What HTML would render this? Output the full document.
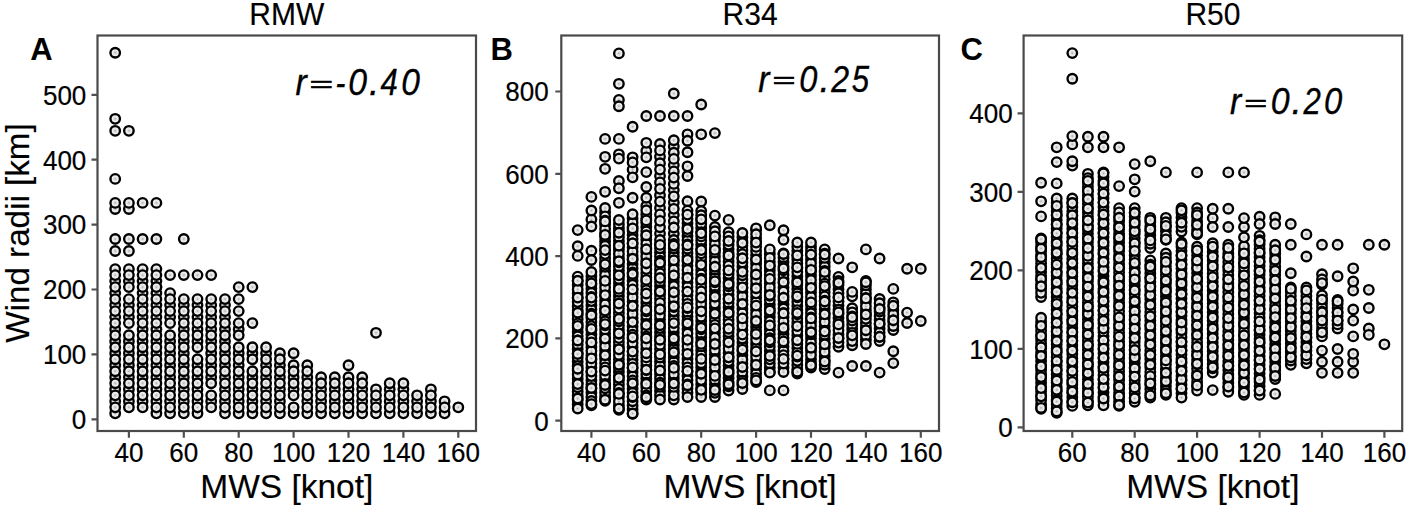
<!DOCTYPE html><html><head><meta charset="utf-8"><style>html,body{margin:0;padding:0;background:#fff;width:1410px;height:509px;overflow:hidden}svg{display:block}</style></head><body>
<svg width="1410" height="509" viewBox="0 0 1410 509" font-family='"Liberation Sans", sans-serif'>
<defs><radialGradient id="mf"><stop offset="0" stop-color="#a8a8a8"/><stop offset="0.25" stop-color="#d8d8d8"/><stop offset="0.55" stop-color="#eeeeee"/><stop offset="1" stop-color="#eeeeee"/></radialGradient></defs>
<rect width="1410" height="509" fill="#fff"/>
<g>
<g fill="url(#mf)" stroke="#000" stroke-width="2.35">
<circle cx="430.9" cy="401.3" r="4.75"/>
<circle cx="417.1" cy="401.3" r="4.75"/>
<circle cx="321.1" cy="389.3" r="4.75"/>
<circle cx="197.5" cy="341.2" r="4.75"/>
<circle cx="376.0" cy="401.3" r="4.75"/>
<circle cx="115.2" cy="239.0" r="4.75"/>
<circle cx="238.7" cy="377.2" r="4.75"/>
<circle cx="307.3" cy="389.3" r="4.75"/>
<circle cx="197.5" cy="275.1" r="4.75"/>
<circle cx="142.6" cy="202.9" r="4.75"/>
<circle cx="376.0" cy="389.3" r="4.75"/>
<circle cx="279.9" cy="401.3" r="4.75"/>
<circle cx="348.5" cy="389.3" r="4.75"/>
<circle cx="238.7" cy="299.1" r="4.75"/>
<circle cx="142.6" cy="401.3" r="4.75"/>
<circle cx="348.5" cy="413.3" r="4.75"/>
<circle cx="266.1" cy="389.3" r="4.75"/>
<circle cx="197.5" cy="329.2" r="4.75"/>
<circle cx="211.2" cy="377.2" r="4.75"/>
<circle cx="170.1" cy="317.1" r="4.75"/>
<circle cx="115.2" cy="389.3" r="4.75"/>
<circle cx="183.8" cy="317.1" r="4.75"/>
<circle cx="403.4" cy="413.3" r="4.75"/>
<circle cx="252.4" cy="401.3" r="4.75"/>
<circle cx="115.2" cy="305.1" r="4.75"/>
<circle cx="211.2" cy="365.2" r="4.75"/>
<circle cx="197.5" cy="413.3" r="4.75"/>
<circle cx="170.1" cy="413.3" r="4.75"/>
<circle cx="225.0" cy="341.2" r="4.75"/>
<circle cx="389.7" cy="389.3" r="4.75"/>
<circle cx="128.9" cy="269.1" r="4.75"/>
<circle cx="376.0" cy="413.3" r="4.75"/>
<circle cx="417.1" cy="413.3" r="4.75"/>
<circle cx="252.4" cy="287.1" r="4.75"/>
<circle cx="225.0" cy="389.3" r="4.75"/>
<circle cx="238.7" cy="329.2" r="4.75"/>
<circle cx="170.1" cy="275.1" r="4.75"/>
<circle cx="128.9" cy="341.2" r="4.75"/>
<circle cx="348.5" cy="365.2" r="4.75"/>
<circle cx="128.9" cy="317.1" r="4.75"/>
<circle cx="115.2" cy="118.8" r="4.75"/>
<circle cx="279.9" cy="377.2" r="4.75"/>
<circle cx="156.4" cy="269.1" r="4.75"/>
<circle cx="334.8" cy="389.3" r="4.75"/>
<circle cx="348.5" cy="401.3" r="4.75"/>
<circle cx="197.5" cy="377.2" r="4.75"/>
<circle cx="197.5" cy="389.3" r="4.75"/>
<circle cx="238.7" cy="311.1" r="4.75"/>
<circle cx="115.2" cy="281.1" r="4.75"/>
<circle cx="128.9" cy="130.8" r="4.75"/>
<circle cx="170.1" cy="401.3" r="4.75"/>
<circle cx="197.5" cy="365.2" r="4.75"/>
<circle cx="142.6" cy="341.2" r="4.75"/>
<circle cx="225.0" cy="305.1" r="4.75"/>
<circle cx="252.4" cy="389.3" r="4.75"/>
<circle cx="279.9" cy="413.3" r="4.75"/>
<circle cx="156.4" cy="329.2" r="4.75"/>
<circle cx="225.0" cy="365.2" r="4.75"/>
<circle cx="197.5" cy="305.1" r="4.75"/>
<circle cx="183.8" cy="239.0" r="4.75"/>
<circle cx="183.8" cy="389.3" r="4.75"/>
<circle cx="444.6" cy="401.3" r="4.75"/>
<circle cx="211.2" cy="401.3" r="4.75"/>
<circle cx="389.7" cy="413.3" r="4.75"/>
<circle cx="183.8" cy="329.2" r="4.75"/>
<circle cx="252.4" cy="323.1" r="4.75"/>
<circle cx="156.4" cy="202.9" r="4.75"/>
<circle cx="170.1" cy="305.1" r="4.75"/>
<circle cx="403.4" cy="389.3" r="4.75"/>
<circle cx="430.9" cy="413.3" r="4.75"/>
<circle cx="362.2" cy="389.3" r="4.75"/>
<circle cx="142.6" cy="353.2" r="4.75"/>
<circle cx="197.5" cy="401.3" r="4.75"/>
<circle cx="115.2" cy="293.1" r="4.75"/>
<circle cx="279.9" cy="365.2" r="4.75"/>
<circle cx="183.8" cy="365.2" r="4.75"/>
<circle cx="334.8" cy="413.3" r="4.75"/>
<circle cx="156.4" cy="305.1" r="4.75"/>
<circle cx="142.6" cy="293.1" r="4.75"/>
<circle cx="362.2" cy="413.3" r="4.75"/>
<circle cx="128.9" cy="305.1" r="4.75"/>
<circle cx="252.4" cy="353.2" r="4.75"/>
<circle cx="115.2" cy="401.3" r="4.75"/>
<circle cx="142.6" cy="377.2" r="4.75"/>
<circle cx="225.0" cy="353.2" r="4.75"/>
<circle cx="128.9" cy="353.2" r="4.75"/>
<circle cx="334.8" cy="401.3" r="4.75"/>
<circle cx="183.8" cy="401.3" r="4.75"/>
<circle cx="307.3" cy="413.3" r="4.75"/>
<circle cx="115.2" cy="52.7" r="4.75"/>
<circle cx="321.1" cy="413.3" r="4.75"/>
<circle cx="183.8" cy="341.2" r="4.75"/>
<circle cx="156.4" cy="239.0" r="4.75"/>
<circle cx="142.6" cy="305.1" r="4.75"/>
<circle cx="115.2" cy="377.2" r="4.75"/>
<circle cx="142.6" cy="239.0" r="4.75"/>
<circle cx="225.0" cy="413.3" r="4.75"/>
<circle cx="211.2" cy="353.2" r="4.75"/>
<circle cx="458.3" cy="407.3" r="4.75"/>
<circle cx="238.7" cy="401.3" r="4.75"/>
<circle cx="444.6" cy="413.3" r="4.75"/>
<circle cx="156.4" cy="341.2" r="4.75"/>
<circle cx="156.4" cy="377.2" r="4.75"/>
<circle cx="156.4" cy="317.1" r="4.75"/>
<circle cx="225.0" cy="329.2" r="4.75"/>
<circle cx="403.4" cy="401.3" r="4.75"/>
<circle cx="293.6" cy="377.2" r="4.75"/>
<circle cx="156.4" cy="401.3" r="4.75"/>
<circle cx="376.0" cy="332.8" r="4.75"/>
<circle cx="211.2" cy="329.2" r="4.75"/>
<circle cx="128.9" cy="209.0" r="4.75"/>
<circle cx="156.4" cy="389.3" r="4.75"/>
<circle cx="170.1" cy="389.3" r="4.75"/>
<circle cx="115.2" cy="269.1" r="4.75"/>
<circle cx="211.2" cy="341.2" r="4.75"/>
<circle cx="307.3" cy="365.2" r="4.75"/>
<circle cx="362.2" cy="401.3" r="4.75"/>
<circle cx="142.6" cy="365.2" r="4.75"/>
<circle cx="156.4" cy="413.3" r="4.75"/>
<circle cx="334.8" cy="377.2" r="4.75"/>
<circle cx="293.6" cy="365.2" r="4.75"/>
<circle cx="266.1" cy="413.3" r="4.75"/>
<circle cx="115.2" cy="130.8" r="4.75"/>
<circle cx="183.8" cy="353.2" r="4.75"/>
<circle cx="115.2" cy="365.2" r="4.75"/>
<circle cx="128.9" cy="251.0" r="4.75"/>
<circle cx="115.2" cy="353.2" r="4.75"/>
<circle cx="266.1" cy="401.3" r="4.75"/>
<circle cx="183.8" cy="305.1" r="4.75"/>
<circle cx="266.1" cy="377.2" r="4.75"/>
<circle cx="115.2" cy="329.2" r="4.75"/>
<circle cx="362.2" cy="377.2" r="4.75"/>
<circle cx="238.7" cy="389.3" r="4.75"/>
<circle cx="225.0" cy="401.3" r="4.75"/>
<circle cx="170.1" cy="353.2" r="4.75"/>
<circle cx="293.6" cy="413.3" r="4.75"/>
<circle cx="115.2" cy="209.0" r="4.75"/>
<circle cx="170.1" cy="341.2" r="4.75"/>
<circle cx="307.3" cy="377.2" r="4.75"/>
<circle cx="128.9" cy="401.3" r="4.75"/>
<circle cx="142.6" cy="389.3" r="4.75"/>
<circle cx="279.9" cy="389.3" r="4.75"/>
<circle cx="115.2" cy="178.9" r="4.75"/>
<circle cx="238.7" cy="413.3" r="4.75"/>
<circle cx="252.4" cy="413.3" r="4.75"/>
<circle cx="170.1" cy="293.1" r="4.75"/>
<circle cx="389.7" cy="401.3" r="4.75"/>
<circle cx="142.6" cy="281.1" r="4.75"/>
<circle cx="266.1" cy="353.2" r="4.75"/>
<circle cx="225.0" cy="317.1" r="4.75"/>
<circle cx="183.8" cy="275.1" r="4.75"/>
<circle cx="197.5" cy="317.1" r="4.75"/>
<circle cx="128.9" cy="202.9" r="4.75"/>
<circle cx="115.2" cy="413.3" r="4.75"/>
<circle cx="142.6" cy="329.2" r="4.75"/>
<circle cx="156.4" cy="281.1" r="4.75"/>
<circle cx="279.9" cy="353.2" r="4.75"/>
<circle cx="128.9" cy="239.0" r="4.75"/>
<circle cx="238.7" cy="365.2" r="4.75"/>
<circle cx="238.7" cy="353.2" r="4.75"/>
<circle cx="211.2" cy="317.1" r="4.75"/>
<circle cx="115.2" cy="317.1" r="4.75"/>
<circle cx="307.3" cy="401.3" r="4.75"/>
<circle cx="348.5" cy="377.2" r="4.75"/>
<circle cx="156.4" cy="287.1" r="4.75"/>
<circle cx="170.1" cy="365.2" r="4.75"/>
<circle cx="225.0" cy="377.2" r="4.75"/>
<circle cx="156.4" cy="293.1" r="4.75"/>
<circle cx="128.9" cy="281.1" r="4.75"/>
<circle cx="142.6" cy="317.1" r="4.75"/>
<circle cx="211.2" cy="305.1" r="4.75"/>
<circle cx="293.6" cy="389.3" r="4.75"/>
<circle cx="238.7" cy="335.2" r="4.75"/>
<circle cx="293.6" cy="353.2" r="4.75"/>
<circle cx="128.9" cy="365.2" r="4.75"/>
<circle cx="211.2" cy="275.1" r="4.75"/>
<circle cx="238.7" cy="287.1" r="4.75"/>
<circle cx="156.4" cy="365.2" r="4.75"/>
<circle cx="238.7" cy="323.1" r="4.75"/>
<circle cx="115.2" cy="341.2" r="4.75"/>
<circle cx="183.8" cy="413.3" r="4.75"/>
<circle cx="128.9" cy="389.3" r="4.75"/>
<circle cx="252.4" cy="377.2" r="4.75"/>
<circle cx="156.4" cy="353.2" r="4.75"/>
<circle cx="430.9" cy="389.3" r="4.75"/>
<circle cx="128.9" cy="377.2" r="4.75"/>
<circle cx="142.6" cy="269.1" r="4.75"/>
<circle cx="266.1" cy="365.2" r="4.75"/>
<circle cx="321.1" cy="401.3" r="4.75"/>
<circle cx="183.8" cy="377.2" r="4.75"/>
<circle cx="170.1" cy="377.2" r="4.75"/>
<circle cx="115.2" cy="251.0" r="4.75"/>
<circle cx="321.1" cy="377.2" r="4.75"/>
<circle cx="115.2" cy="202.9" r="4.75"/>
<circle cx="197.5" cy="383.2" r="4.75"/>
<circle cx="266.1" cy="347.2" r="4.75"/>
<circle cx="266.1" cy="407.3" r="4.75"/>
<circle cx="225.0" cy="335.2" r="4.75"/>
<circle cx="444.6" cy="407.3" r="4.75"/>
<circle cx="142.6" cy="359.2" r="4.75"/>
<circle cx="115.2" cy="323.1" r="4.75"/>
<circle cx="183.8" cy="407.3" r="4.75"/>
<circle cx="183.8" cy="371.2" r="4.75"/>
<circle cx="252.4" cy="371.2" r="4.75"/>
<circle cx="142.6" cy="323.1" r="4.75"/>
<circle cx="252.4" cy="359.2" r="4.75"/>
<circle cx="170.1" cy="335.2" r="4.75"/>
<circle cx="142.6" cy="371.2" r="4.75"/>
<circle cx="156.4" cy="335.2" r="4.75"/>
<circle cx="128.9" cy="275.1" r="4.75"/>
<circle cx="211.2" cy="371.2" r="4.75"/>
<circle cx="211.2" cy="383.2" r="4.75"/>
<circle cx="142.6" cy="335.2" r="4.75"/>
<circle cx="142.6" cy="287.1" r="4.75"/>
<circle cx="115.2" cy="359.2" r="4.75"/>
<circle cx="128.9" cy="359.2" r="4.75"/>
<circle cx="156.4" cy="347.2" r="4.75"/>
<circle cx="128.9" cy="311.1" r="4.75"/>
<circle cx="348.5" cy="395.3" r="4.75"/>
<circle cx="362.2" cy="383.2" r="4.75"/>
<circle cx="128.9" cy="347.2" r="4.75"/>
<circle cx="334.8" cy="395.3" r="4.75"/>
<circle cx="128.9" cy="371.2" r="4.75"/>
<circle cx="238.7" cy="347.2" r="4.75"/>
<circle cx="183.8" cy="383.2" r="4.75"/>
<circle cx="403.4" cy="383.2" r="4.75"/>
<circle cx="252.4" cy="407.3" r="4.75"/>
<circle cx="225.0" cy="371.2" r="4.75"/>
<circle cx="142.6" cy="395.3" r="4.75"/>
<circle cx="170.1" cy="407.3" r="4.75"/>
<circle cx="197.5" cy="395.3" r="4.75"/>
<circle cx="142.6" cy="275.1" r="4.75"/>
<circle cx="211.2" cy="323.1" r="4.75"/>
<circle cx="430.9" cy="395.3" r="4.75"/>
<circle cx="115.2" cy="407.3" r="4.75"/>
<circle cx="293.6" cy="407.3" r="4.75"/>
<circle cx="389.7" cy="383.2" r="4.75"/>
<circle cx="430.9" cy="407.3" r="4.75"/>
<circle cx="170.1" cy="383.2" r="4.75"/>
<circle cx="252.4" cy="383.2" r="4.75"/>
<circle cx="238.7" cy="359.2" r="4.75"/>
<circle cx="307.3" cy="407.3" r="4.75"/>
<circle cx="279.9" cy="359.2" r="4.75"/>
<circle cx="156.4" cy="407.3" r="4.75"/>
<circle cx="334.8" cy="407.3" r="4.75"/>
<circle cx="307.3" cy="395.3" r="4.75"/>
<circle cx="211.2" cy="407.3" r="4.75"/>
<circle cx="142.6" cy="383.2" r="4.75"/>
<circle cx="307.3" cy="371.2" r="4.75"/>
<circle cx="279.9" cy="371.2" r="4.75"/>
<circle cx="128.9" cy="395.3" r="4.75"/>
<circle cx="293.6" cy="371.2" r="4.75"/>
<circle cx="225.0" cy="359.2" r="4.75"/>
<circle cx="128.9" cy="335.2" r="4.75"/>
<circle cx="142.6" cy="299.1" r="4.75"/>
<circle cx="115.2" cy="287.1" r="4.75"/>
<circle cx="293.6" cy="383.2" r="4.75"/>
<circle cx="225.0" cy="407.3" r="4.75"/>
<circle cx="362.2" cy="395.3" r="4.75"/>
<circle cx="362.2" cy="407.3" r="4.75"/>
<circle cx="128.9" cy="383.2" r="4.75"/>
<circle cx="417.1" cy="395.3" r="4.75"/>
<circle cx="183.8" cy="323.1" r="4.75"/>
<circle cx="279.9" cy="407.3" r="4.75"/>
<circle cx="115.2" cy="299.1" r="4.75"/>
<circle cx="389.7" cy="395.3" r="4.75"/>
<circle cx="156.4" cy="359.2" r="4.75"/>
<circle cx="156.4" cy="287.1" r="4.75"/>
<circle cx="128.9" cy="299.1" r="4.75"/>
<circle cx="115.2" cy="275.1" r="4.75"/>
<circle cx="225.0" cy="323.1" r="4.75"/>
<circle cx="156.4" cy="323.1" r="4.75"/>
<circle cx="197.5" cy="323.1" r="4.75"/>
<circle cx="293.6" cy="395.3" r="4.75"/>
<circle cx="170.1" cy="311.1" r="4.75"/>
<circle cx="225.0" cy="395.3" r="4.75"/>
<circle cx="321.1" cy="383.2" r="4.75"/>
<circle cx="170.1" cy="347.2" r="4.75"/>
<circle cx="142.6" cy="407.3" r="4.75"/>
<circle cx="128.9" cy="323.1" r="4.75"/>
<circle cx="197.5" cy="347.2" r="4.75"/>
<circle cx="197.5" cy="371.2" r="4.75"/>
<circle cx="321.1" cy="395.3" r="4.75"/>
<circle cx="170.1" cy="371.2" r="4.75"/>
<circle cx="183.8" cy="335.2" r="4.75"/>
<circle cx="376.0" cy="407.3" r="4.75"/>
<circle cx="321.1" cy="407.3" r="4.75"/>
<circle cx="128.9" cy="407.3" r="4.75"/>
<circle cx="142.6" cy="347.2" r="4.75"/>
<circle cx="183.8" cy="299.1" r="4.75"/>
<circle cx="115.2" cy="311.1" r="4.75"/>
<circle cx="238.7" cy="371.2" r="4.75"/>
<circle cx="403.4" cy="407.3" r="4.75"/>
<circle cx="170.1" cy="299.1" r="4.75"/>
<circle cx="156.4" cy="311.1" r="4.75"/>
<circle cx="211.2" cy="311.1" r="4.75"/>
<circle cx="417.1" cy="407.3" r="4.75"/>
<circle cx="115.2" cy="347.2" r="4.75"/>
<circle cx="156.4" cy="299.1" r="4.75"/>
<circle cx="348.5" cy="407.3" r="4.75"/>
<circle cx="170.1" cy="395.3" r="4.75"/>
<circle cx="389.7" cy="407.3" r="4.75"/>
<circle cx="211.2" cy="299.1" r="4.75"/>
<circle cx="225.0" cy="347.2" r="4.75"/>
<circle cx="266.1" cy="383.2" r="4.75"/>
<circle cx="252.4" cy="395.3" r="4.75"/>
<circle cx="183.8" cy="311.1" r="4.75"/>
<circle cx="170.1" cy="323.1" r="4.75"/>
<circle cx="211.2" cy="395.3" r="4.75"/>
<circle cx="279.9" cy="383.2" r="4.75"/>
<circle cx="156.4" cy="371.2" r="4.75"/>
<circle cx="238.7" cy="395.3" r="4.75"/>
<circle cx="197.5" cy="407.3" r="4.75"/>
<circle cx="279.9" cy="395.3" r="4.75"/>
<circle cx="156.4" cy="383.2" r="4.75"/>
<circle cx="183.8" cy="347.2" r="4.75"/>
<circle cx="266.1" cy="359.2" r="4.75"/>
<circle cx="197.5" cy="359.2" r="4.75"/>
<circle cx="142.6" cy="311.1" r="4.75"/>
<circle cx="115.2" cy="335.2" r="4.75"/>
<circle cx="115.2" cy="371.2" r="4.75"/>
<circle cx="115.2" cy="383.2" r="4.75"/>
<circle cx="252.4" cy="347.2" r="4.75"/>
<circle cx="170.1" cy="359.2" r="4.75"/>
<circle cx="211.2" cy="347.2" r="4.75"/>
<circle cx="183.8" cy="359.2" r="4.75"/>
<circle cx="403.4" cy="395.3" r="4.75"/>
<circle cx="211.2" cy="335.2" r="4.75"/>
<circle cx="128.9" cy="287.1" r="4.75"/>
<circle cx="183.8" cy="395.3" r="4.75"/>
<circle cx="225.0" cy="311.1" r="4.75"/>
<circle cx="266.1" cy="395.3" r="4.75"/>
<circle cx="156.4" cy="395.3" r="4.75"/>
<circle cx="197.5" cy="299.1" r="4.75"/>
<circle cx="348.5" cy="383.2" r="4.75"/>
<circle cx="156.4" cy="275.1" r="4.75"/>
<circle cx="197.5" cy="311.1" r="4.75"/>
<circle cx="266.1" cy="371.2" r="4.75"/>
<circle cx="225.0" cy="299.1" r="4.75"/>
<circle cx="307.3" cy="383.2" r="4.75"/>
<circle cx="115.2" cy="395.3" r="4.75"/>
<circle cx="211.2" cy="359.2" r="4.75"/>
<circle cx="238.7" cy="407.3" r="4.75"/>
<circle cx="376.0" cy="395.3" r="4.75"/>
<circle cx="334.8" cy="383.2" r="4.75"/>
<circle cx="238.7" cy="383.2" r="4.75"/>
<circle cx="225.0" cy="383.2" r="4.75"/>
<circle cx="197.5" cy="335.2" r="4.75"/>
</g>
<rect x="97.5" y="35.5" width="378.5" height="395.5" fill="none" stroke="#4a4a4a" stroke-width="2.2"/>
<path d="M128.9 431.0V437.8M183.8 431.0V437.8M238.7 431.0V437.8M293.6 431.0V437.8M348.5 431.0V437.8M403.4 431.0V437.8M458.3 431.0V437.8M97.5 419.3H91.5M97.5 354.4H91.5M97.5 289.5H91.5M97.5 224.6H91.5M97.5 159.7H91.5M97.5 94.8H91.5" stroke="#505050" stroke-width="2.2" fill="none"/>
<g font-size="26" fill="#000" stroke="#000" stroke-width="0.2">
<text transform="translate(128.9,461.8) scale(1,1.06)" text-anchor="middle">40</text>
<text transform="translate(183.8,461.8) scale(1,1.06)" text-anchor="middle">60</text>
<text transform="translate(238.7,461.8) scale(1,1.06)" text-anchor="middle">80</text>
<text transform="translate(293.6,461.8) scale(1,1.06)" text-anchor="middle">100</text>
<text transform="translate(348.5,461.8) scale(1,1.06)" text-anchor="middle">120</text>
<text transform="translate(403.4,461.8) scale(1,1.06)" text-anchor="middle">140</text>
<text transform="translate(458.3,461.8) scale(1,1.06)" text-anchor="middle">160</text>
<text transform="translate(86.3,429.1) scale(1,1.06)" text-anchor="end">0</text>
<text transform="translate(86.3,364.2) scale(1,1.06)" text-anchor="end">100</text>
<text transform="translate(86.3,299.3) scale(1,1.06)" text-anchor="end">200</text>
<text transform="translate(86.3,234.4) scale(1,1.06)" text-anchor="end">300</text>
<text transform="translate(86.3,169.5) scale(1,1.06)" text-anchor="end">400</text>
<text transform="translate(86.3,104.6) scale(1,1.06)" text-anchor="end">500</text>
</g>
<text transform="translate(286.8,25.3) scale(1,1.06)" font-size="30" stroke="#000" stroke-width="0.15" text-anchor="middle">RMW</text>
<text x="286.8" y="498" font-size="33.5" stroke="#000" stroke-width="0.15" text-anchor="middle">MWS [knot]</text>
<text x="30.3" y="60.4" font-size="31" font-weight="bold">A</text>
<text transform="translate(295.60,95) scale(0.910,1)" font-size="37" font-style="italic" stroke="#000" stroke-width="0.35">r</text>
<text transform="translate(309.07,91.88) scale(1.086,0.62)" font-size="37" font-style="italic" stroke="#000" stroke-width="1.0">=</text>
<text transform="translate(335.56,95) scale(0.798,1)" font-size="37" font-style="italic" stroke="#000" stroke-width="0.35">-</text>
<text transform="translate(348.16,95) scale(0.912,1)" font-size="37" font-style="italic" stroke="#000" stroke-width="0.35">0</text>
<text transform="translate(369.05,95) scale(1.000,1)" font-size="37" font-style="italic" stroke="#000" stroke-width="0.35">.</text>
<text transform="translate(380.50,95) scale(0.840,1)" font-size="37" font-style="italic" stroke="#000" stroke-width="0.35">4</text>
<text transform="translate(401.27,95) scale(0.906,1)" font-size="37" font-style="italic" stroke="#000" stroke-width="0.35">0</text>
<g fill="url(#mf)" stroke="#000" stroke-width="2.35">
<circle cx="824.7" cy="262.2" r="4.75"/>
<circle cx="797.3" cy="369.3" r="4.75"/>
<circle cx="838.5" cy="372.6" r="4.75"/>
<circle cx="701.2" cy="266.0" r="4.75"/>
<circle cx="756.1" cy="272.2" r="4.75"/>
<circle cx="783.5" cy="317.0" r="4.75"/>
<circle cx="673.8" cy="146.4" r="4.75"/>
<circle cx="577.7" cy="361.7" r="4.75"/>
<circle cx="797.3" cy="267.9" r="4.75"/>
<circle cx="646.3" cy="206.0" r="4.75"/>
<circle cx="838.5" cy="334.4" r="4.75"/>
<circle cx="673.8" cy="391.1" r="4.75"/>
<circle cx="701.2" cy="227.9" r="4.75"/>
<circle cx="701.2" cy="261.7" r="4.75"/>
<circle cx="577.7" cy="404.2" r="4.75"/>
<circle cx="618.9" cy="228.4" r="4.75"/>
<circle cx="714.9" cy="273.8" r="4.75"/>
<circle cx="646.3" cy="378.5" r="4.75"/>
<circle cx="618.9" cy="270.6" r="4.75"/>
<circle cx="632.6" cy="413.7" r="4.75"/>
<circle cx="646.3" cy="260.7" r="4.75"/>
<circle cx="797.3" cy="289.0" r="4.75"/>
<circle cx="618.9" cy="350.8" r="4.75"/>
<circle cx="660.0" cy="340.7" r="4.75"/>
<circle cx="811.0" cy="309.2" r="4.75"/>
<circle cx="824.7" cy="266.5" r="4.75"/>
<circle cx="605.1" cy="262.5" r="4.75"/>
<circle cx="728.6" cy="298.9" r="4.75"/>
<circle cx="811.0" cy="346.7" r="4.75"/>
<circle cx="756.1" cy="297.6" r="4.75"/>
<circle cx="742.4" cy="334.2" r="4.75"/>
<circle cx="769.8" cy="317.0" r="4.75"/>
<circle cx="660.0" cy="116.0" r="4.75"/>
<circle cx="783.5" cy="346.6" r="4.75"/>
<circle cx="618.9" cy="295.9" r="4.75"/>
<circle cx="852.2" cy="345.2" r="4.75"/>
<circle cx="879.6" cy="307.4" r="4.75"/>
<circle cx="605.1" cy="379.8" r="4.75"/>
<circle cx="673.8" cy="165.1" r="4.75"/>
<circle cx="605.1" cy="241.5" r="4.75"/>
<circle cx="660.0" cy="286.0" r="4.75"/>
<circle cx="783.5" cy="295.8" r="4.75"/>
<circle cx="879.6" cy="328.4" r="4.75"/>
<circle cx="701.2" cy="337.8" r="4.75"/>
<circle cx="605.1" cy="224.8" r="4.75"/>
<circle cx="797.3" cy="335.5" r="4.75"/>
<circle cx="673.8" cy="290.2" r="4.75"/>
<circle cx="865.9" cy="339.8" r="4.75"/>
<circle cx="879.6" cy="372.6" r="4.75"/>
<circle cx="756.1" cy="289.1" r="4.75"/>
<circle cx="769.8" cy="253.6" r="4.75"/>
<circle cx="618.9" cy="224.2" r="4.75"/>
<circle cx="742.4" cy="330.0" r="4.75"/>
<circle cx="797.3" cy="339.7" r="4.75"/>
<circle cx="824.7" cy="339.1" r="4.75"/>
<circle cx="769.8" cy="304.4" r="4.75"/>
<circle cx="797.3" cy="322.8" r="4.75"/>
<circle cx="769.8" cy="312.8" r="4.75"/>
<circle cx="618.9" cy="283.3" r="4.75"/>
<circle cx="714.9" cy="375.8" r="4.75"/>
<circle cx="646.3" cy="151.0" r="4.75"/>
<circle cx="618.9" cy="405.6" r="4.75"/>
<circle cx="673.8" cy="332.3" r="4.75"/>
<circle cx="756.1" cy="301.8" r="4.75"/>
<circle cx="811.0" cy="288.3" r="4.75"/>
<circle cx="824.7" cy="343.4" r="4.75"/>
<circle cx="577.7" cy="230.1" r="4.75"/>
<circle cx="660.0" cy="361.7" r="4.75"/>
<circle cx="742.4" cy="342.6" r="4.75"/>
<circle cx="660.0" cy="374.3" r="4.75"/>
<circle cx="714.9" cy="346.0" r="4.75"/>
<circle cx="756.1" cy="318.7" r="4.75"/>
<circle cx="701.2" cy="350.5" r="4.75"/>
<circle cx="742.4" cy="376.4" r="4.75"/>
<circle cx="865.9" cy="314.6" r="4.75"/>
<circle cx="687.5" cy="116.0" r="4.75"/>
<circle cx="824.7" cy="369.0" r="4.75"/>
<circle cx="728.6" cy="219.9" r="4.75"/>
<circle cx="714.9" cy="384.2" r="4.75"/>
<circle cx="646.3" cy="340.6" r="4.75"/>
<circle cx="701.2" cy="201.5" r="4.75"/>
<circle cx="646.3" cy="264.9" r="4.75"/>
<circle cx="605.1" cy="333.7" r="4.75"/>
<circle cx="591.4" cy="284.5" r="4.75"/>
<circle cx="728.6" cy="240.5" r="4.75"/>
<circle cx="591.4" cy="392.7" r="4.75"/>
<circle cx="824.7" cy="334.8" r="4.75"/>
<circle cx="838.5" cy="346.7" r="4.75"/>
<circle cx="687.5" cy="375.8" r="4.75"/>
<circle cx="632.6" cy="157.3" r="4.75"/>
<circle cx="824.7" cy="275.0" r="4.75"/>
<circle cx="756.1" cy="360.9" r="4.75"/>
<circle cx="687.5" cy="236.0" r="4.75"/>
<circle cx="701.2" cy="244.8" r="4.75"/>
<circle cx="577.7" cy="400.0" r="4.75"/>
<circle cx="824.7" cy="317.7" r="4.75"/>
<circle cx="618.9" cy="232.7" r="4.75"/>
<circle cx="701.2" cy="219.5" r="4.75"/>
<circle cx="701.2" cy="295.5" r="4.75"/>
<circle cx="618.9" cy="346.5" r="4.75"/>
<circle cx="618.9" cy="342.3" r="4.75"/>
<circle cx="783.5" cy="262.0" r="4.75"/>
<circle cx="728.6" cy="278.0" r="4.75"/>
<circle cx="797.3" cy="373.5" r="4.75"/>
<circle cx="605.1" cy="358.9" r="4.75"/>
<circle cx="742.4" cy="245.6" r="4.75"/>
<circle cx="783.5" cy="283.1" r="4.75"/>
<circle cx="605.1" cy="291.8" r="4.75"/>
<circle cx="742.4" cy="292.0" r="4.75"/>
<circle cx="879.6" cy="341.0" r="4.75"/>
<circle cx="714.9" cy="278.0" r="4.75"/>
<circle cx="577.7" cy="395.7" r="4.75"/>
<circle cx="865.9" cy="331.4" r="4.75"/>
<circle cx="646.3" cy="386.9" r="4.75"/>
<circle cx="714.9" cy="227.0" r="4.75"/>
<circle cx="591.4" cy="388.5" r="4.75"/>
<circle cx="618.9" cy="154.3" r="4.75"/>
<circle cx="824.7" cy="287.8" r="4.75"/>
<circle cx="838.5" cy="305.6" r="4.75"/>
<circle cx="646.3" cy="294.3" r="4.75"/>
<circle cx="646.3" cy="365.8" r="4.75"/>
<circle cx="632.6" cy="280.7" r="4.75"/>
<circle cx="646.3" cy="319.6" r="4.75"/>
<circle cx="701.2" cy="320.9" r="4.75"/>
<circle cx="646.3" cy="157.3" r="4.75"/>
<circle cx="660.0" cy="319.6" r="4.75"/>
<circle cx="742.4" cy="258.3" r="4.75"/>
<circle cx="742.4" cy="346.8" r="4.75"/>
<circle cx="920.8" cy="321.0" r="4.75"/>
<circle cx="660.0" cy="391.1" r="4.75"/>
<circle cx="687.5" cy="152.2" r="4.75"/>
<circle cx="811.0" cy="305.0" r="4.75"/>
<circle cx="756.1" cy="382.0" r="4.75"/>
<circle cx="687.5" cy="388.5" r="4.75"/>
<circle cx="605.1" cy="312.8" r="4.75"/>
<circle cx="660.0" cy="395.3" r="4.75"/>
<circle cx="632.6" cy="368.0" r="4.75"/>
<circle cx="577.7" cy="357.4" r="4.75"/>
<circle cx="687.5" cy="316.5" r="4.75"/>
<circle cx="673.8" cy="399.5" r="4.75"/>
<circle cx="632.6" cy="359.7" r="4.75"/>
<circle cx="605.1" cy="342.1" r="4.75"/>
<circle cx="701.2" cy="270.2" r="4.75"/>
<circle cx="646.3" cy="235.4" r="4.75"/>
<circle cx="728.6" cy="390.5" r="4.75"/>
<circle cx="879.6" cy="336.8" r="4.75"/>
<circle cx="783.5" cy="257.7" r="4.75"/>
<circle cx="879.6" cy="299.0" r="4.75"/>
<circle cx="811.0" cy="338.3" r="4.75"/>
<circle cx="591.4" cy="334.4" r="4.75"/>
<circle cx="756.1" cy="352.4" r="4.75"/>
<circle cx="756.1" cy="276.4" r="4.75"/>
<circle cx="673.8" cy="152.7" r="4.75"/>
<circle cx="660.0" cy="386.9" r="4.75"/>
<circle cx="673.8" cy="273.4" r="4.75"/>
<circle cx="673.8" cy="294.4" r="4.75"/>
<circle cx="577.7" cy="293.6" r="4.75"/>
<circle cx="618.9" cy="83.8" r="4.75"/>
<circle cx="660.0" cy="294.4" r="4.75"/>
<circle cx="742.4" cy="367.9" r="4.75"/>
<circle cx="618.9" cy="329.7" r="4.75"/>
<circle cx="632.6" cy="326.4" r="4.75"/>
<circle cx="673.8" cy="323.9" r="4.75"/>
<circle cx="660.0" cy="195.2" r="4.75"/>
<circle cx="605.1" cy="308.6" r="4.75"/>
<circle cx="632.6" cy="309.8" r="4.75"/>
<circle cx="687.5" cy="312.3" r="4.75"/>
<circle cx="742.4" cy="338.4" r="4.75"/>
<circle cx="756.1" cy="284.9" r="4.75"/>
<circle cx="797.3" cy="318.6" r="4.75"/>
<circle cx="824.7" cy="257.9" r="4.75"/>
<circle cx="577.7" cy="314.9" r="4.75"/>
<circle cx="811.0" cy="342.5" r="4.75"/>
<circle cx="618.9" cy="274.8" r="4.75"/>
<circle cx="646.3" cy="374.3" r="4.75"/>
<circle cx="673.8" cy="315.4" r="4.75"/>
<circle cx="769.8" cy="225.2" r="4.75"/>
<circle cx="646.3" cy="227.0" r="4.75"/>
<circle cx="756.1" cy="255.3" r="4.75"/>
<circle cx="742.4" cy="300.5" r="4.75"/>
<circle cx="714.9" cy="371.5" r="4.75"/>
<circle cx="701.2" cy="211.0" r="4.75"/>
<circle cx="618.9" cy="202.8" r="4.75"/>
<circle cx="632.6" cy="218.4" r="4.75"/>
<circle cx="824.7" cy="270.8" r="4.75"/>
<circle cx="714.9" cy="235.5" r="4.75"/>
<circle cx="618.9" cy="266.4" r="4.75"/>
<circle cx="756.1" cy="327.1" r="4.75"/>
<circle cx="660.0" cy="307.0" r="4.75"/>
<circle cx="591.4" cy="305.3" r="4.75"/>
<circle cx="701.2" cy="367.4" r="4.75"/>
<circle cx="632.6" cy="355.5" r="4.75"/>
<circle cx="714.9" cy="248.2" r="4.75"/>
<circle cx="797.3" cy="348.1" r="4.75"/>
<circle cx="646.3" cy="281.7" r="4.75"/>
<circle cx="646.3" cy="248.1" r="4.75"/>
<circle cx="742.4" cy="283.6" r="4.75"/>
<circle cx="756.1" cy="230.0" r="4.75"/>
<circle cx="824.7" cy="292.1" r="4.75"/>
<circle cx="605.1" cy="212.2" r="4.75"/>
<circle cx="605.1" cy="270.9" r="4.75"/>
<circle cx="701.2" cy="104.5" r="4.75"/>
<circle cx="865.9" cy="335.6" r="4.75"/>
<circle cx="577.7" cy="408.5" r="4.75"/>
<circle cx="646.3" cy="218.6" r="4.75"/>
<circle cx="673.8" cy="357.5" r="4.75"/>
<circle cx="632.6" cy="276.5" r="4.75"/>
<circle cx="646.3" cy="239.7" r="4.75"/>
<circle cx="811.0" cy="350.8" r="4.75"/>
<circle cx="769.8" cy="266.3" r="4.75"/>
<circle cx="687.5" cy="240.3" r="4.75"/>
<circle cx="673.8" cy="116.0" r="4.75"/>
<circle cx="783.5" cy="287.4" r="4.75"/>
<circle cx="632.6" cy="322.3" r="4.75"/>
<circle cx="632.6" cy="264.1" r="4.75"/>
<circle cx="591.4" cy="380.2" r="4.75"/>
<circle cx="811.0" cy="334.2" r="4.75"/>
<circle cx="783.5" cy="304.3" r="4.75"/>
<circle cx="660.0" cy="332.3" r="4.75"/>
<circle cx="632.6" cy="351.4" r="4.75"/>
<circle cx="714.9" cy="307.8" r="4.75"/>
<circle cx="618.9" cy="363.4" r="4.75"/>
<circle cx="591.4" cy="219.4" r="4.75"/>
<circle cx="673.8" cy="361.7" r="4.75"/>
<circle cx="646.3" cy="353.2" r="4.75"/>
<circle cx="591.4" cy="396.9" r="4.75"/>
<circle cx="646.3" cy="116.0" r="4.75"/>
<circle cx="756.1" cy="356.7" r="4.75"/>
<circle cx="673.8" cy="328.1" r="4.75"/>
<circle cx="756.1" cy="369.3" r="4.75"/>
<circle cx="605.1" cy="168.8" r="4.75"/>
<circle cx="728.6" cy="365.5" r="4.75"/>
<circle cx="591.4" cy="288.6" r="4.75"/>
<circle cx="577.7" cy="297.9" r="4.75"/>
<circle cx="646.3" cy="370.1" r="4.75"/>
<circle cx="797.3" cy="305.9" r="4.75"/>
<circle cx="632.6" cy="226.7" r="4.75"/>
<circle cx="618.9" cy="287.5" r="4.75"/>
<circle cx="687.5" cy="341.9" r="4.75"/>
<circle cx="673.8" cy="281.8" r="4.75"/>
<circle cx="714.9" cy="363.0" r="4.75"/>
<circle cx="811.0" cy="321.7" r="4.75"/>
<circle cx="646.3" cy="252.3" r="4.75"/>
<circle cx="797.3" cy="365.0" r="4.75"/>
<circle cx="701.2" cy="392.8" r="4.75"/>
<circle cx="577.7" cy="310.6" r="4.75"/>
<circle cx="660.0" cy="311.2" r="4.75"/>
<circle cx="605.1" cy="350.5" r="4.75"/>
<circle cx="893.3" cy="351.2" r="4.75"/>
<circle cx="660.0" cy="208.0" r="4.75"/>
<circle cx="605.1" cy="233.1" r="4.75"/>
<circle cx="742.4" cy="304.7" r="4.75"/>
<circle cx="646.3" cy="315.4" r="4.75"/>
<circle cx="783.5" cy="266.2" r="4.75"/>
<circle cx="673.8" cy="319.6" r="4.75"/>
<circle cx="673.8" cy="277.6" r="4.75"/>
<circle cx="618.9" cy="338.1" r="4.75"/>
<circle cx="714.9" cy="133.1" r="4.75"/>
<circle cx="865.9" cy="289.4" r="4.75"/>
<circle cx="660.0" cy="277.6" r="4.75"/>
<circle cx="605.1" cy="249.9" r="4.75"/>
<circle cx="605.1" cy="258.3" r="4.75"/>
<circle cx="714.9" cy="397.0" r="4.75"/>
<circle cx="605.1" cy="354.7" r="4.75"/>
<circle cx="852.2" cy="267.3" r="4.75"/>
<circle cx="728.6" cy="248.9" r="4.75"/>
<circle cx="865.9" cy="293.6" r="4.75"/>
<circle cx="618.9" cy="304.4" r="4.75"/>
<circle cx="605.1" cy="337.9" r="4.75"/>
<circle cx="742.4" cy="384.8" r="4.75"/>
<circle cx="714.9" cy="329.0" r="4.75"/>
<circle cx="742.4" cy="317.3" r="4.75"/>
<circle cx="756.1" cy="331.3" r="4.75"/>
<circle cx="865.9" cy="281.0" r="4.75"/>
<circle cx="660.0" cy="353.3" r="4.75"/>
<circle cx="687.5" cy="371.6" r="4.75"/>
<circle cx="591.4" cy="210.5" r="4.75"/>
<circle cx="838.5" cy="297.4" r="4.75"/>
<circle cx="618.9" cy="397.1" r="4.75"/>
<circle cx="728.6" cy="253.0" r="4.75"/>
<circle cx="714.9" cy="392.8" r="4.75"/>
<circle cx="742.4" cy="308.9" r="4.75"/>
<circle cx="618.9" cy="258.0" r="4.75"/>
<circle cx="646.3" cy="328.0" r="4.75"/>
<circle cx="728.6" cy="294.7" r="4.75"/>
<circle cx="660.0" cy="370.1" r="4.75"/>
<circle cx="673.8" cy="252.4" r="4.75"/>
<circle cx="742.4" cy="389.0" r="4.75"/>
<circle cx="646.3" cy="277.5" r="4.75"/>
<circle cx="728.6" cy="307.2" r="4.75"/>
<circle cx="714.9" cy="341.8" r="4.75"/>
<circle cx="769.8" cy="367.8" r="4.75"/>
<circle cx="728.6" cy="244.7" r="4.75"/>
<circle cx="646.3" cy="302.8" r="4.75"/>
<circle cx="632.6" cy="169.6" r="4.75"/>
<circle cx="783.5" cy="300.1" r="4.75"/>
<circle cx="893.3" cy="322.1" r="4.75"/>
<circle cx="673.8" cy="311.2" r="4.75"/>
<circle cx="687.5" cy="350.4" r="4.75"/>
<circle cx="660.0" cy="252.4" r="4.75"/>
<circle cx="618.9" cy="158.6" r="4.75"/>
<circle cx="769.8" cy="249.4" r="4.75"/>
<circle cx="701.2" cy="371.6" r="4.75"/>
<circle cx="714.9" cy="333.2" r="4.75"/>
<circle cx="673.8" cy="344.9" r="4.75"/>
<circle cx="660.0" cy="156.8" r="4.75"/>
<circle cx="660.0" cy="281.8" r="4.75"/>
<circle cx="646.3" cy="256.5" r="4.75"/>
<circle cx="838.5" cy="318.0" r="4.75"/>
<circle cx="618.9" cy="401.4" r="4.75"/>
<circle cx="879.6" cy="320.0" r="4.75"/>
<circle cx="742.4" cy="270.9" r="4.75"/>
<circle cx="742.4" cy="249.9" r="4.75"/>
<circle cx="852.2" cy="328.8" r="4.75"/>
<circle cx="687.5" cy="337.7" r="4.75"/>
<circle cx="838.5" cy="313.9" r="4.75"/>
<circle cx="632.6" cy="409.5" r="4.75"/>
<circle cx="673.8" cy="302.8" r="4.75"/>
<circle cx="852.2" cy="366.0" r="4.75"/>
<circle cx="714.9" cy="299.2" r="4.75"/>
<circle cx="591.4" cy="359.4" r="4.75"/>
<circle cx="660.0" cy="315.4" r="4.75"/>
<circle cx="769.8" cy="262.1" r="4.75"/>
<circle cx="824.7" cy="364.7" r="4.75"/>
<circle cx="591.4" cy="371.9" r="4.75"/>
<circle cx="783.5" cy="390.4" r="4.75"/>
<circle cx="811.0" cy="313.3" r="4.75"/>
<circle cx="618.9" cy="245.3" r="4.75"/>
<circle cx="797.3" cy="360.8" r="4.75"/>
<circle cx="879.6" cy="315.8" r="4.75"/>
<circle cx="728.6" cy="282.2" r="4.75"/>
<circle cx="660.0" cy="349.1" r="4.75"/>
<circle cx="687.5" cy="274.1" r="4.75"/>
<circle cx="660.0" cy="201.6" r="4.75"/>
<circle cx="646.3" cy="187.0" r="4.75"/>
<circle cx="756.1" cy="373.6" r="4.75"/>
<circle cx="646.3" cy="399.5" r="4.75"/>
<circle cx="605.1" cy="329.5" r="4.75"/>
<circle cx="591.4" cy="226.5" r="4.75"/>
<circle cx="756.1" cy="310.2" r="4.75"/>
<circle cx="646.3" cy="391.1" r="4.75"/>
<circle cx="728.6" cy="378.0" r="4.75"/>
<circle cx="756.1" cy="280.7" r="4.75"/>
<circle cx="577.7" cy="391.5" r="4.75"/>
<circle cx="673.8" cy="349.1" r="4.75"/>
<circle cx="714.9" cy="316.2" r="4.75"/>
<circle cx="660.0" cy="233.6" r="4.75"/>
<circle cx="769.8" cy="300.1" r="4.75"/>
<circle cx="673.8" cy="395.3" r="4.75"/>
<circle cx="714.9" cy="265.2" r="4.75"/>
<circle cx="907.1" cy="268.7" r="4.75"/>
<circle cx="811.0" cy="330.0" r="4.75"/>
<circle cx="852.2" cy="337.0" r="4.75"/>
<circle cx="605.1" cy="396.6" r="4.75"/>
<circle cx="701.2" cy="333.6" r="4.75"/>
<circle cx="660.0" cy="265.0" r="4.75"/>
<circle cx="838.5" cy="258.5" r="4.75"/>
<circle cx="728.6" cy="290.5" r="4.75"/>
<circle cx="632.6" cy="293.2" r="4.75"/>
<circle cx="687.5" cy="346.2" r="4.75"/>
<circle cx="660.0" cy="214.4" r="4.75"/>
<circle cx="811.0" cy="284.2" r="4.75"/>
<circle cx="701.2" cy="359.0" r="4.75"/>
<circle cx="646.3" cy="222.8" r="4.75"/>
<circle cx="893.3" cy="306.3" r="4.75"/>
<circle cx="728.6" cy="369.7" r="4.75"/>
<circle cx="687.5" cy="320.7" r="4.75"/>
<circle cx="742.4" cy="266.7" r="4.75"/>
<circle cx="660.0" cy="163.2" r="4.75"/>
<circle cx="756.1" cy="238.4" r="4.75"/>
<circle cx="852.2" cy="324.6" r="4.75"/>
<circle cx="632.6" cy="338.9" r="4.75"/>
<circle cx="687.5" cy="223.3" r="4.75"/>
<circle cx="577.7" cy="378.7" r="4.75"/>
<circle cx="687.5" cy="201.2" r="4.75"/>
<circle cx="797.3" cy="352.4" r="4.75"/>
<circle cx="797.3" cy="276.3" r="4.75"/>
<circle cx="577.7" cy="319.1" r="4.75"/>
<circle cx="714.9" cy="337.5" r="4.75"/>
<circle cx="646.3" cy="243.9" r="4.75"/>
<circle cx="769.8" cy="350.9" r="4.75"/>
<circle cx="742.4" cy="262.5" r="4.75"/>
<circle cx="618.9" cy="380.3" r="4.75"/>
<circle cx="756.1" cy="228.3" r="4.75"/>
<circle cx="673.8" cy="265.0" r="4.75"/>
<circle cx="591.4" cy="346.9" r="4.75"/>
<circle cx="783.5" cy="350.8" r="4.75"/>
<circle cx="907.1" cy="323.0" r="4.75"/>
<circle cx="646.3" cy="361.6" r="4.75"/>
<circle cx="769.8" cy="390.4" r="4.75"/>
<circle cx="687.5" cy="329.2" r="4.75"/>
<circle cx="673.8" cy="233.8" r="4.75"/>
<circle cx="728.6" cy="344.7" r="4.75"/>
<circle cx="838.5" cy="301.5" r="4.75"/>
<circle cx="591.4" cy="196.9" r="4.75"/>
<circle cx="811.0" cy="246.7" r="4.75"/>
<circle cx="838.5" cy="276.9" r="4.75"/>
<circle cx="577.7" cy="348.9" r="4.75"/>
<circle cx="783.5" cy="367.8" r="4.75"/>
<circle cx="605.1" cy="371.5" r="4.75"/>
<circle cx="605.1" cy="375.7" r="4.75"/>
<circle cx="824.7" cy="279.3" r="4.75"/>
<circle cx="701.2" cy="308.2" r="4.75"/>
<circle cx="632.6" cy="372.1" r="4.75"/>
<circle cx="824.7" cy="356.2" r="4.75"/>
<circle cx="811.0" cy="300.8" r="4.75"/>
<circle cx="852.2" cy="332.9" r="4.75"/>
<circle cx="852.2" cy="296.3" r="4.75"/>
<circle cx="660.0" cy="256.6" r="4.75"/>
<circle cx="605.1" cy="363.1" r="4.75"/>
<circle cx="783.5" cy="253.5" r="4.75"/>
<circle cx="687.5" cy="325.0" r="4.75"/>
<circle cx="660.0" cy="378.5" r="4.75"/>
<circle cx="591.4" cy="276.2" r="4.75"/>
<circle cx="811.0" cy="275.8" r="4.75"/>
<circle cx="769.8" cy="279.0" r="4.75"/>
<circle cx="756.1" cy="344.0" r="4.75"/>
<circle cx="852.2" cy="308.2" r="4.75"/>
<circle cx="742.4" cy="237.2" r="4.75"/>
<circle cx="673.8" cy="240.0" r="4.75"/>
<circle cx="673.8" cy="260.8" r="4.75"/>
<circle cx="714.9" cy="256.8" r="4.75"/>
<circle cx="605.1" cy="229.0" r="4.75"/>
<circle cx="577.7" cy="366.0" r="4.75"/>
<circle cx="865.9" cy="310.4" r="4.75"/>
<circle cx="742.4" cy="372.1" r="4.75"/>
<circle cx="742.4" cy="321.5" r="4.75"/>
<circle cx="605.1" cy="237.3" r="4.75"/>
<circle cx="632.6" cy="289.0" r="4.75"/>
<circle cx="783.5" cy="278.9" r="4.75"/>
<circle cx="797.3" cy="343.9" r="4.75"/>
<circle cx="838.5" cy="289.2" r="4.75"/>
<circle cx="742.4" cy="325.8" r="4.75"/>
<circle cx="701.2" cy="384.3" r="4.75"/>
<circle cx="577.7" cy="344.7" r="4.75"/>
<circle cx="605.1" cy="245.7" r="4.75"/>
<circle cx="605.1" cy="300.2" r="4.75"/>
<circle cx="660.0" cy="323.9" r="4.75"/>
<circle cx="728.6" cy="303.0" r="4.75"/>
<circle cx="660.0" cy="365.9" r="4.75"/>
<circle cx="673.8" cy="202.6" r="4.75"/>
<circle cx="824.7" cy="326.3" r="4.75"/>
<circle cx="756.1" cy="263.8" r="4.75"/>
<circle cx="618.9" cy="99.9" r="4.75"/>
<circle cx="618.9" cy="409.8" r="4.75"/>
<circle cx="660.0" cy="336.5" r="4.75"/>
<circle cx="618.9" cy="249.5" r="4.75"/>
<circle cx="687.5" cy="244.5" r="4.75"/>
<circle cx="618.9" cy="181.0" r="4.75"/>
<circle cx="577.7" cy="331.9" r="4.75"/>
<circle cx="701.2" cy="342.0" r="4.75"/>
<circle cx="811.0" cy="271.7" r="4.75"/>
<circle cx="673.8" cy="378.5" r="4.75"/>
<circle cx="852.2" cy="291.9" r="4.75"/>
<circle cx="701.2" cy="299.8" r="4.75"/>
<circle cx="646.3" cy="349.0" r="4.75"/>
<circle cx="811.0" cy="255.0" r="4.75"/>
<circle cx="660.0" cy="260.8" r="4.75"/>
<circle cx="728.6" cy="386.3" r="4.75"/>
<circle cx="673.8" cy="307.0" r="4.75"/>
<circle cx="673.8" cy="365.9" r="4.75"/>
<circle cx="893.3" cy="318.1" r="4.75"/>
<circle cx="701.2" cy="329.4" r="4.75"/>
<circle cx="907.1" cy="312.6" r="4.75"/>
<circle cx="920.8" cy="268.7" r="4.75"/>
<circle cx="728.6" cy="361.3" r="4.75"/>
<circle cx="632.6" cy="255.8" r="4.75"/>
<circle cx="632.6" cy="384.6" r="4.75"/>
<circle cx="714.9" cy="354.5" r="4.75"/>
<circle cx="742.4" cy="355.3" r="4.75"/>
<circle cx="591.4" cy="250.7" r="4.75"/>
<circle cx="714.9" cy="290.8" r="4.75"/>
<circle cx="687.5" cy="291.1" r="4.75"/>
<circle cx="797.3" cy="284.8" r="4.75"/>
<circle cx="618.9" cy="138.9" r="4.75"/>
<circle cx="769.8" cy="291.7" r="4.75"/>
<circle cx="811.0" cy="325.8" r="4.75"/>
<circle cx="811.0" cy="359.2" r="4.75"/>
<circle cx="728.6" cy="328.0" r="4.75"/>
<circle cx="797.3" cy="301.7" r="4.75"/>
<circle cx="605.1" cy="296.0" r="4.75"/>
<circle cx="577.7" cy="306.4" r="4.75"/>
<circle cx="756.1" cy="365.1" r="4.75"/>
<circle cx="701.2" cy="388.5" r="4.75"/>
<circle cx="591.4" cy="317.8" r="4.75"/>
<circle cx="838.5" cy="326.2" r="4.75"/>
<circle cx="811.0" cy="250.8" r="4.75"/>
<circle cx="714.9" cy="320.5" r="4.75"/>
<circle cx="673.8" cy="256.6" r="4.75"/>
<circle cx="618.9" cy="384.5" r="4.75"/>
<circle cx="756.1" cy="306.0" r="4.75"/>
<circle cx="728.6" cy="311.4" r="4.75"/>
<circle cx="811.0" cy="242.5" r="4.75"/>
<circle cx="769.8" cy="295.9" r="4.75"/>
<circle cx="673.8" cy="353.3" r="4.75"/>
<circle cx="824.7" cy="309.2" r="4.75"/>
<circle cx="673.8" cy="336.5" r="4.75"/>
<circle cx="660.0" cy="298.6" r="4.75"/>
<circle cx="673.8" cy="244.0" r="4.75"/>
<circle cx="756.1" cy="234.2" r="4.75"/>
<circle cx="797.3" cy="259.4" r="4.75"/>
<circle cx="687.5" cy="214.8" r="4.75"/>
<circle cx="783.5" cy="372.0" r="4.75"/>
<circle cx="701.2" cy="312.5" r="4.75"/>
<circle cx="714.9" cy="350.2" r="4.75"/>
<circle cx="673.8" cy="370.1" r="4.75"/>
<circle cx="714.9" cy="312.0" r="4.75"/>
<circle cx="687.5" cy="295.3" r="4.75"/>
<circle cx="714.9" cy="239.8" r="4.75"/>
<circle cx="632.6" cy="268.2" r="4.75"/>
<circle cx="756.1" cy="251.1" r="4.75"/>
<circle cx="824.7" cy="249.4" r="4.75"/>
<circle cx="646.3" cy="332.2" r="4.75"/>
<circle cx="660.0" cy="227.2" r="4.75"/>
<circle cx="742.4" cy="254.1" r="4.75"/>
<circle cx="646.3" cy="307.0" r="4.75"/>
<circle cx="632.6" cy="301.5" r="4.75"/>
<circle cx="769.8" cy="325.5" r="4.75"/>
<circle cx="605.1" cy="279.3" r="4.75"/>
<circle cx="811.0" cy="259.2" r="4.75"/>
<circle cx="701.2" cy="375.9" r="4.75"/>
<circle cx="769.8" cy="283.2" r="4.75"/>
<circle cx="879.6" cy="303.2" r="4.75"/>
<circle cx="714.9" cy="380.0" r="4.75"/>
<circle cx="783.5" cy="291.6" r="4.75"/>
<circle cx="660.0" cy="399.5" r="4.75"/>
<circle cx="618.9" cy="188.2" r="4.75"/>
<circle cx="673.8" cy="190.1" r="4.75"/>
<circle cx="728.6" cy="340.5" r="4.75"/>
<circle cx="632.6" cy="297.3" r="4.75"/>
<circle cx="701.2" cy="282.9" r="4.75"/>
<circle cx="728.6" cy="336.3" r="4.75"/>
<circle cx="742.4" cy="313.1" r="4.75"/>
<circle cx="632.6" cy="405.4" r="4.75"/>
<circle cx="756.1" cy="242.7" r="4.75"/>
<circle cx="865.9" cy="285.2" r="4.75"/>
<circle cx="879.6" cy="324.2" r="4.75"/>
<circle cx="577.7" cy="327.7" r="4.75"/>
<circle cx="838.5" cy="285.1" r="4.75"/>
<circle cx="591.4" cy="384.4" r="4.75"/>
<circle cx="632.6" cy="235.0" r="4.75"/>
<circle cx="783.5" cy="274.7" r="4.75"/>
<circle cx="632.6" cy="347.2" r="4.75"/>
<circle cx="865.9" cy="327.2" r="4.75"/>
<circle cx="577.7" cy="383.0" r="4.75"/>
<circle cx="742.4" cy="279.4" r="4.75"/>
<circle cx="591.4" cy="401.0" r="4.75"/>
<circle cx="687.5" cy="176.0" r="4.75"/>
<circle cx="577.7" cy="276.6" r="4.75"/>
<circle cx="783.5" cy="359.3" r="4.75"/>
<circle cx="660.0" cy="144.0" r="4.75"/>
<circle cx="728.6" cy="273.9" r="4.75"/>
<circle cx="824.7" cy="296.4" r="4.75"/>
<circle cx="714.9" cy="231.2" r="4.75"/>
<circle cx="714.9" cy="215.6" r="4.75"/>
<circle cx="591.4" cy="376.1" r="4.75"/>
<circle cx="646.3" cy="197.7" r="4.75"/>
<circle cx="769.8" cy="346.6" r="4.75"/>
<circle cx="701.2" cy="223.7" r="4.75"/>
<circle cx="660.0" cy="269.2" r="4.75"/>
<circle cx="618.9" cy="371.8" r="4.75"/>
<circle cx="605.1" cy="208.0" r="4.75"/>
<circle cx="605.1" cy="346.3" r="4.75"/>
<circle cx="714.9" cy="261.0" r="4.75"/>
<circle cx="811.0" cy="317.5" r="4.75"/>
<circle cx="646.3" cy="382.7" r="4.75"/>
<circle cx="577.7" cy="336.2" r="4.75"/>
<circle cx="618.9" cy="325.4" r="4.75"/>
<circle cx="783.5" cy="333.9" r="4.75"/>
<circle cx="714.9" cy="367.2" r="4.75"/>
<circle cx="687.5" cy="261.4" r="4.75"/>
<circle cx="646.3" cy="214.4" r="4.75"/>
<circle cx="618.9" cy="321.2" r="4.75"/>
<circle cx="838.5" cy="309.7" r="4.75"/>
<circle cx="701.2" cy="274.4" r="4.75"/>
<circle cx="646.3" cy="298.5" r="4.75"/>
<circle cx="605.1" cy="156.8" r="4.75"/>
<circle cx="893.3" cy="310.2" r="4.75"/>
<circle cx="742.4" cy="241.4" r="4.75"/>
<circle cx="783.5" cy="230.2" r="4.75"/>
<circle cx="673.8" cy="158.9" r="4.75"/>
<circle cx="687.5" cy="210.6" r="4.75"/>
<circle cx="893.3" cy="314.2" r="4.75"/>
<circle cx="577.7" cy="285.1" r="4.75"/>
<circle cx="797.3" cy="280.5" r="4.75"/>
<circle cx="577.7" cy="370.2" r="4.75"/>
<circle cx="591.4" cy="330.3" r="4.75"/>
<circle cx="646.3" cy="311.2" r="4.75"/>
<circle cx="728.6" cy="257.2" r="4.75"/>
<circle cx="618.9" cy="317.0" r="4.75"/>
<circle cx="591.4" cy="338.6" r="4.75"/>
<circle cx="879.6" cy="332.6" r="4.75"/>
<circle cx="865.9" cy="366.0" r="4.75"/>
<circle cx="893.3" cy="330.0" r="4.75"/>
<circle cx="701.2" cy="354.7" r="4.75"/>
<circle cx="660.0" cy="357.5" r="4.75"/>
<circle cx="618.9" cy="388.7" r="4.75"/>
<circle cx="783.5" cy="355.1" r="4.75"/>
<circle cx="591.4" cy="280.3" r="4.75"/>
<circle cx="577.7" cy="280.9" r="4.75"/>
<circle cx="673.8" cy="215.1" r="4.75"/>
<circle cx="756.1" cy="348.2" r="4.75"/>
<circle cx="673.8" cy="196.3" r="4.75"/>
<circle cx="660.0" cy="176.0" r="4.75"/>
<circle cx="728.6" cy="373.8" r="4.75"/>
<circle cx="660.0" cy="382.7" r="4.75"/>
<circle cx="824.7" cy="347.6" r="4.75"/>
<circle cx="632.6" cy="305.6" r="4.75"/>
<circle cx="646.3" cy="323.8" r="4.75"/>
<circle cx="824.7" cy="253.7" r="4.75"/>
<circle cx="605.1" cy="283.4" r="4.75"/>
<circle cx="673.8" cy="298.6" r="4.75"/>
<circle cx="769.8" cy="329.7" r="4.75"/>
<circle cx="852.2" cy="312.3" r="4.75"/>
<circle cx="865.9" cy="323.0" r="4.75"/>
<circle cx="701.2" cy="134.3" r="4.75"/>
<circle cx="687.5" cy="299.6" r="4.75"/>
<circle cx="660.0" cy="248.2" r="4.75"/>
<circle cx="646.3" cy="142.8" r="4.75"/>
<circle cx="687.5" cy="380.1" r="4.75"/>
<circle cx="742.4" cy="296.2" r="4.75"/>
<circle cx="783.5" cy="338.1" r="4.75"/>
<circle cx="605.1" cy="384.0" r="4.75"/>
<circle cx="756.1" cy="322.9" r="4.75"/>
<circle cx="838.5" cy="338.5" r="4.75"/>
<circle cx="742.4" cy="380.6" r="4.75"/>
<circle cx="714.9" cy="269.5" r="4.75"/>
<circle cx="687.5" cy="231.8" r="4.75"/>
<circle cx="591.4" cy="342.8" r="4.75"/>
<circle cx="742.4" cy="275.2" r="4.75"/>
<circle cx="618.9" cy="241.1" r="4.75"/>
<circle cx="660.0" cy="244.0" r="4.75"/>
<circle cx="632.6" cy="272.4" r="4.75"/>
<circle cx="687.5" cy="303.8" r="4.75"/>
<circle cx="646.3" cy="172.1" r="4.75"/>
<circle cx="660.0" cy="302.8" r="4.75"/>
<circle cx="838.5" cy="342.6" r="4.75"/>
<circle cx="701.2" cy="232.1" r="4.75"/>
<circle cx="632.6" cy="330.6" r="4.75"/>
<circle cx="632.6" cy="401.2" r="4.75"/>
<circle cx="591.4" cy="292.8" r="4.75"/>
<circle cx="879.6" cy="258.5" r="4.75"/>
<circle cx="673.8" cy="248.2" r="4.75"/>
<circle cx="646.3" cy="357.4" r="4.75"/>
<circle cx="728.6" cy="332.2" r="4.75"/>
<circle cx="769.8" cy="342.4" r="4.75"/>
<circle cx="660.0" cy="240.0" r="4.75"/>
<circle cx="756.1" cy="377.8" r="4.75"/>
<circle cx="646.3" cy="231.2" r="4.75"/>
<circle cx="714.9" cy="388.5" r="4.75"/>
<circle cx="728.6" cy="315.5" r="4.75"/>
<circle cx="660.0" cy="182.4" r="4.75"/>
<circle cx="618.9" cy="367.6" r="4.75"/>
<circle cx="714.9" cy="286.5" r="4.75"/>
<circle cx="660.0" cy="290.2" r="4.75"/>
<circle cx="797.3" cy="251.0" r="4.75"/>
<circle cx="811.0" cy="363.3" r="4.75"/>
<circle cx="632.6" cy="230.8" r="4.75"/>
<circle cx="660.0" cy="169.6" r="4.75"/>
<circle cx="769.8" cy="321.3" r="4.75"/>
<circle cx="673.8" cy="386.9" r="4.75"/>
<circle cx="797.3" cy="255.2" r="4.75"/>
<circle cx="646.3" cy="285.9" r="4.75"/>
<circle cx="632.6" cy="259.9" r="4.75"/>
<circle cx="660.0" cy="344.9" r="4.75"/>
<circle cx="728.6" cy="269.7" r="4.75"/>
<circle cx="618.9" cy="312.8" r="4.75"/>
<circle cx="893.3" cy="288.9" r="4.75"/>
<circle cx="618.9" cy="220.0" r="4.75"/>
<circle cx="769.8" cy="334.0" r="4.75"/>
<circle cx="605.1" cy="216.4" r="4.75"/>
<circle cx="577.7" cy="387.2" r="4.75"/>
<circle cx="618.9" cy="333.9" r="4.75"/>
<circle cx="591.4" cy="260.0" r="4.75"/>
<circle cx="687.5" cy="308.0" r="4.75"/>
<circle cx="797.3" cy="327.0" r="4.75"/>
<circle cx="591.4" cy="367.7" r="4.75"/>
<circle cx="605.1" cy="275.1" r="4.75"/>
<circle cx="728.6" cy="353.0" r="4.75"/>
<circle cx="673.8" cy="221.3" r="4.75"/>
<circle cx="605.1" cy="287.6" r="4.75"/>
<circle cx="865.9" cy="302.0" r="4.75"/>
<circle cx="838.5" cy="281.0" r="4.75"/>
<circle cx="797.3" cy="314.3" r="4.75"/>
<circle cx="591.4" cy="309.5" r="4.75"/>
<circle cx="797.3" cy="263.6" r="4.75"/>
<circle cx="728.6" cy="348.8" r="4.75"/>
<circle cx="852.2" cy="320.5" r="4.75"/>
<circle cx="701.2" cy="397.0" r="4.75"/>
<circle cx="605.1" cy="138.9" r="4.75"/>
<circle cx="687.5" cy="257.2" r="4.75"/>
<circle cx="701.2" cy="346.3" r="4.75"/>
<circle cx="824.7" cy="283.6" r="4.75"/>
<circle cx="618.9" cy="300.1" r="4.75"/>
<circle cx="838.5" cy="330.3" r="4.75"/>
<circle cx="605.1" cy="392.4" r="4.75"/>
<circle cx="824.7" cy="300.7" r="4.75"/>
<circle cx="824.7" cy="322.0" r="4.75"/>
<circle cx="811.0" cy="280.0" r="4.75"/>
<circle cx="714.9" cy="295.0" r="4.75"/>
<circle cx="811.0" cy="267.5" r="4.75"/>
<circle cx="811.0" cy="292.5" r="4.75"/>
<circle cx="646.3" cy="344.8" r="4.75"/>
<circle cx="714.9" cy="324.8" r="4.75"/>
<circle cx="728.6" cy="261.4" r="4.75"/>
<circle cx="769.8" cy="355.1" r="4.75"/>
<circle cx="577.7" cy="289.4" r="4.75"/>
<circle cx="577.7" cy="374.5" r="4.75"/>
<circle cx="632.6" cy="318.1" r="4.75"/>
<circle cx="701.2" cy="380.1" r="4.75"/>
<circle cx="728.6" cy="319.7" r="4.75"/>
<circle cx="714.9" cy="244.0" r="4.75"/>
<circle cx="687.5" cy="265.7" r="4.75"/>
<circle cx="797.3" cy="272.1" r="4.75"/>
<circle cx="687.5" cy="358.9" r="4.75"/>
<circle cx="701.2" cy="325.1" r="4.75"/>
<circle cx="660.0" cy="150.4" r="4.75"/>
<circle cx="756.1" cy="335.6" r="4.75"/>
<circle cx="673.8" cy="183.9" r="4.75"/>
<circle cx="701.2" cy="304.0" r="4.75"/>
<circle cx="783.5" cy="363.5" r="4.75"/>
<circle cx="673.8" cy="171.4" r="4.75"/>
<circle cx="783.5" cy="270.4" r="4.75"/>
<circle cx="618.9" cy="53.4" r="4.75"/>
<circle cx="714.9" cy="282.2" r="4.75"/>
<circle cx="687.5" cy="134.3" r="4.75"/>
<circle cx="687.5" cy="363.1" r="4.75"/>
<circle cx="618.9" cy="253.7" r="4.75"/>
<circle cx="673.8" cy="269.2" r="4.75"/>
<circle cx="577.7" cy="246.2" r="4.75"/>
<circle cx="687.5" cy="140.7" r="4.75"/>
<circle cx="797.3" cy="331.2" r="4.75"/>
<circle cx="756.1" cy="246.9" r="4.75"/>
<circle cx="824.7" cy="304.9" r="4.75"/>
<circle cx="632.6" cy="376.3" r="4.75"/>
<circle cx="646.3" cy="395.3" r="4.75"/>
<circle cx="618.9" cy="392.9" r="4.75"/>
<circle cx="618.9" cy="279.0" r="4.75"/>
<circle cx="687.5" cy="227.5" r="4.75"/>
<circle cx="838.5" cy="322.1" r="4.75"/>
<circle cx="865.9" cy="344.0" r="4.75"/>
<circle cx="728.6" cy="382.2" r="4.75"/>
<circle cx="701.2" cy="215.2" r="4.75"/>
<circle cx="591.4" cy="313.6" r="4.75"/>
<circle cx="646.3" cy="273.3" r="4.75"/>
<circle cx="756.1" cy="259.6" r="4.75"/>
<circle cx="632.6" cy="334.7" r="4.75"/>
<circle cx="714.9" cy="358.8" r="4.75"/>
<circle cx="632.6" cy="388.8" r="4.75"/>
<circle cx="769.8" cy="338.2" r="4.75"/>
<circle cx="879.6" cy="311.6" r="4.75"/>
<circle cx="824.7" cy="360.5" r="4.75"/>
<circle cx="646.3" cy="290.1" r="4.75"/>
<circle cx="783.5" cy="325.4" r="4.75"/>
<circle cx="632.6" cy="239.1" r="4.75"/>
<circle cx="811.0" cy="263.3" r="4.75"/>
<circle cx="632.6" cy="197.7" r="4.75"/>
<circle cx="811.0" cy="367.5" r="4.75"/>
<circle cx="605.1" cy="304.4" r="4.75"/>
<circle cx="687.5" cy="354.6" r="4.75"/>
<circle cx="783.5" cy="308.5" r="4.75"/>
<circle cx="769.8" cy="308.6" r="4.75"/>
<circle cx="591.4" cy="363.6" r="4.75"/>
<circle cx="673.8" cy="227.5" r="4.75"/>
<circle cx="728.6" cy="232.2" r="4.75"/>
<circle cx="591.4" cy="321.9" r="4.75"/>
<circle cx="618.9" cy="291.7" r="4.75"/>
<circle cx="673.8" cy="140.2" r="4.75"/>
<circle cx="632.6" cy="397.1" r="4.75"/>
<circle cx="728.6" cy="265.5" r="4.75"/>
<circle cx="687.5" cy="333.5" r="4.75"/>
<circle cx="605.1" cy="400.8" r="4.75"/>
<circle cx="605.1" cy="220.6" r="4.75"/>
<circle cx="852.2" cy="316.4" r="4.75"/>
<circle cx="742.4" cy="233.0" r="4.75"/>
<circle cx="632.6" cy="243.3" r="4.75"/>
<circle cx="577.7" cy="255.9" r="4.75"/>
<circle cx="673.8" cy="374.3" r="4.75"/>
<circle cx="618.9" cy="376.1" r="4.75"/>
<circle cx="632.6" cy="284.9" r="4.75"/>
<circle cx="728.6" cy="323.8" r="4.75"/>
<circle cx="824.7" cy="351.9" r="4.75"/>
<circle cx="687.5" cy="278.4" r="4.75"/>
<circle cx="769.8" cy="372.0" r="4.75"/>
<circle cx="756.1" cy="293.3" r="4.75"/>
<circle cx="605.1" cy="317.0" r="4.75"/>
<circle cx="687.5" cy="392.8" r="4.75"/>
<circle cx="783.5" cy="329.7" r="4.75"/>
<circle cx="618.9" cy="359.2" r="4.75"/>
<circle cx="742.4" cy="363.7" r="4.75"/>
<circle cx="893.3" cy="326.0" r="4.75"/>
<circle cx="577.7" cy="340.4" r="4.75"/>
<circle cx="618.9" cy="308.6" r="4.75"/>
<circle cx="632.6" cy="247.4" r="4.75"/>
<circle cx="865.9" cy="297.8" r="4.75"/>
<circle cx="714.9" cy="303.5" r="4.75"/>
<circle cx="687.5" cy="253.0" r="4.75"/>
<circle cx="756.1" cy="314.4" r="4.75"/>
<circle cx="701.2" cy="240.6" r="4.75"/>
<circle cx="605.1" cy="321.2" r="4.75"/>
<circle cx="618.9" cy="236.9" r="4.75"/>
<circle cx="701.2" cy="316.7" r="4.75"/>
<circle cx="632.6" cy="222.5" r="4.75"/>
<circle cx="701.2" cy="363.2" r="4.75"/>
<circle cx="783.5" cy="239.8" r="4.75"/>
<circle cx="893.3" cy="363.1" r="4.75"/>
<circle cx="701.2" cy="236.4" r="4.75"/>
<circle cx="824.7" cy="313.5" r="4.75"/>
<circle cx="687.5" cy="367.3" r="4.75"/>
<circle cx="632.6" cy="392.9" r="4.75"/>
<circle cx="783.5" cy="342.4" r="4.75"/>
<circle cx="687.5" cy="248.7" r="4.75"/>
<circle cx="852.2" cy="341.1" r="4.75"/>
<circle cx="577.7" cy="353.2" r="4.75"/>
<circle cx="701.2" cy="287.1" r="4.75"/>
<circle cx="701.2" cy="278.6" r="4.75"/>
<circle cx="687.5" cy="219.1" r="4.75"/>
<circle cx="756.1" cy="268.0" r="4.75"/>
<circle cx="838.5" cy="293.3" r="4.75"/>
<circle cx="632.6" cy="177.3" r="4.75"/>
<circle cx="591.4" cy="355.2" r="4.75"/>
<circle cx="701.2" cy="291.3" r="4.75"/>
<circle cx="673.8" cy="177.6" r="4.75"/>
<circle cx="797.3" cy="310.1" r="4.75"/>
<circle cx="660.0" cy="328.1" r="4.75"/>
<circle cx="701.2" cy="257.5" r="4.75"/>
<circle cx="660.0" cy="273.4" r="4.75"/>
<circle cx="811.0" cy="296.7" r="4.75"/>
<circle cx="687.5" cy="397.0" r="4.75"/>
<circle cx="632.6" cy="251.6" r="4.75"/>
<circle cx="797.3" cy="246.7" r="4.75"/>
<circle cx="605.1" cy="325.4" r="4.75"/>
<circle cx="742.4" cy="287.8" r="4.75"/>
<circle cx="783.5" cy="321.2" r="4.75"/>
<circle cx="632.6" cy="214.2" r="4.75"/>
<circle cx="742.4" cy="359.5" r="4.75"/>
<circle cx="797.3" cy="293.2" r="4.75"/>
<circle cx="687.5" cy="384.3" r="4.75"/>
<circle cx="632.6" cy="126.7" r="4.75"/>
<circle cx="605.1" cy="367.3" r="4.75"/>
<circle cx="701.2" cy="249.0" r="4.75"/>
<circle cx="591.4" cy="405.2" r="4.75"/>
<circle cx="728.6" cy="236.4" r="4.75"/>
<circle cx="742.4" cy="351.1" r="4.75"/>
<circle cx="728.6" cy="286.4" r="4.75"/>
<circle cx="893.3" cy="302.3" r="4.75"/>
<circle cx="591.4" cy="272.0" r="4.75"/>
<circle cx="673.8" cy="93.5" r="4.75"/>
<circle cx="605.1" cy="266.7" r="4.75"/>
<circle cx="673.8" cy="208.8" r="4.75"/>
<circle cx="769.8" cy="363.5" r="4.75"/>
<circle cx="632.6" cy="343.0" r="4.75"/>
<circle cx="687.5" cy="282.6" r="4.75"/>
<circle cx="797.3" cy="356.6" r="4.75"/>
<circle cx="701.2" cy="253.3" r="4.75"/>
<circle cx="673.8" cy="286.0" r="4.75"/>
<circle cx="618.9" cy="106.2" r="4.75"/>
<circle cx="577.7" cy="323.4" r="4.75"/>
<circle cx="605.1" cy="191.8" r="4.75"/>
<circle cx="687.5" cy="166.3" r="4.75"/>
<circle cx="797.3" cy="242.5" r="4.75"/>
<circle cx="824.7" cy="330.6" r="4.75"/>
<circle cx="769.8" cy="270.5" r="4.75"/>
<circle cx="591.4" cy="301.1" r="4.75"/>
<circle cx="660.0" cy="188.8" r="4.75"/>
<circle cx="646.3" cy="210.2" r="4.75"/>
<circle cx="591.4" cy="326.1" r="4.75"/>
<circle cx="618.9" cy="355.0" r="4.75"/>
<circle cx="673.8" cy="340.7" r="4.75"/>
<circle cx="687.5" cy="269.9" r="4.75"/>
<circle cx="591.4" cy="297.0" r="4.75"/>
<circle cx="646.3" cy="269.1" r="4.75"/>
<circle cx="673.8" cy="382.7" r="4.75"/>
<circle cx="769.8" cy="359.3" r="4.75"/>
<circle cx="811.0" cy="355.0" r="4.75"/>
<circle cx="769.8" cy="257.9" r="4.75"/>
<circle cx="783.5" cy="312.8" r="4.75"/>
<circle cx="605.1" cy="388.2" r="4.75"/>
<circle cx="577.7" cy="302.1" r="4.75"/>
<circle cx="797.3" cy="297.4" r="4.75"/>
<circle cx="865.9" cy="318.8" r="4.75"/>
<circle cx="865.9" cy="306.2" r="4.75"/>
<circle cx="660.0" cy="220.8" r="4.75"/>
<circle cx="769.8" cy="287.4" r="4.75"/>
<circle cx="714.9" cy="252.5" r="4.75"/>
<circle cx="632.6" cy="313.9" r="4.75"/>
<circle cx="865.9" cy="249.4" r="4.75"/>
<circle cx="728.6" cy="357.2" r="4.75"/>
<circle cx="687.5" cy="286.9" r="4.75"/>
<circle cx="605.1" cy="254.1" r="4.75"/>
<circle cx="632.6" cy="380.4" r="4.75"/>
<circle cx="756.1" cy="339.8" r="4.75"/>
<circle cx="632.6" cy="162.4" r="4.75"/>
<circle cx="769.8" cy="274.8" r="4.75"/>
<circle cx="632.6" cy="363.8" r="4.75"/>
<circle cx="591.4" cy="351.1" r="4.75"/>
<circle cx="618.9" cy="262.2" r="4.75"/>
<circle cx="646.3" cy="336.4" r="4.75"/>
<circle cx="577.7" cy="312.7" r="4.75"/>
<circle cx="783.5" cy="268.4" r="4.75"/>
<circle cx="838.5" cy="312.4" r="4.75"/>
<circle cx="687.5" cy="259.8" r="4.75"/>
<circle cx="591.4" cy="297.6" r="4.75"/>
<circle cx="673.8" cy="367.9" r="4.75"/>
<circle cx="605.1" cy="310.6" r="4.75"/>
<circle cx="824.7" cy="254.5" r="4.75"/>
<circle cx="632.6" cy="351.6" r="4.75"/>
<circle cx="646.3" cy="235.2" r="4.75"/>
<circle cx="673.8" cy="306.2" r="4.75"/>
<circle cx="865.9" cy="298.4" r="4.75"/>
<circle cx="660.0" cy="291.6" r="4.75"/>
<circle cx="728.6" cy="328.7" r="4.75"/>
<circle cx="660.0" cy="370.5" r="4.75"/>
<circle cx="591.4" cy="283.3" r="4.75"/>
<circle cx="728.6" cy="284.0" r="4.75"/>
<circle cx="646.3" cy="369.7" r="4.75"/>
<circle cx="605.1" cy="370.6" r="4.75"/>
<circle cx="632.6" cy="258.7" r="4.75"/>
<circle cx="577.7" cy="384.1" r="4.75"/>
<circle cx="632.6" cy="367.4" r="4.75"/>
<circle cx="673.8" cy="260.2" r="4.75"/>
<circle cx="577.7" cy="280.8" r="4.75"/>
<circle cx="797.3" cy="355.6" r="4.75"/>
<circle cx="756.1" cy="380.4" r="4.75"/>
<circle cx="618.9" cy="318.9" r="4.75"/>
<circle cx="632.6" cy="322.1" r="4.75"/>
<circle cx="852.2" cy="335.3" r="4.75"/>
<circle cx="605.1" cy="264.3" r="4.75"/>
<circle cx="687.5" cy="291.6" r="4.75"/>
<circle cx="728.6" cy="342.3" r="4.75"/>
<circle cx="701.2" cy="250.1" r="4.75"/>
<circle cx="769.8" cy="356.0" r="4.75"/>
<circle cx="797.3" cy="267.3" r="4.75"/>
<circle cx="673.8" cy="352.2" r="4.75"/>
<circle cx="728.6" cy="270.4" r="4.75"/>
<circle cx="756.1" cy="321.0" r="4.75"/>
<circle cx="618.9" cy="377.8" r="4.75"/>
<circle cx="797.3" cy="371.7" r="4.75"/>
<circle cx="893.3" cy="320.2" r="4.75"/>
<circle cx="646.3" cy="353.2" r="4.75"/>
<circle cx="893.3" cy="305.7" r="4.75"/>
<circle cx="797.3" cy="326.1" r="4.75"/>
<circle cx="687.5" cy="277.7" r="4.75"/>
<circle cx="783.5" cy="297.7" r="4.75"/>
<circle cx="673.8" cy="338.5" r="4.75"/>
<circle cx="714.9" cy="281.2" r="4.75"/>
<circle cx="618.9" cy="245.7" r="4.75"/>
<circle cx="605.1" cy="295.1" r="4.75"/>
<circle cx="714.9" cy="360.0" r="4.75"/>
<circle cx="714.9" cy="375.9" r="4.75"/>
<circle cx="577.7" cy="368.7" r="4.75"/>
<circle cx="618.9" cy="393.9" r="4.75"/>
<circle cx="591.4" cy="328.8" r="4.75"/>
<circle cx="714.9" cy="296.7" r="4.75"/>
<circle cx="591.4" cy="358.4" r="4.75"/>
<circle cx="632.6" cy="383.2" r="4.75"/>
<circle cx="797.3" cy="313.0" r="4.75"/>
<circle cx="701.2" cy="327.7" r="4.75"/>
<circle cx="769.8" cy="372.5" r="4.75"/>
<circle cx="756.1" cy="351.4" r="4.75"/>
<circle cx="728.6" cy="312.9" r="4.75"/>
<circle cx="769.8" cy="265.6" r="4.75"/>
<circle cx="742.4" cy="383.0" r="4.75"/>
<circle cx="618.9" cy="349.3" r="4.75"/>
<circle cx="605.1" cy="221.4" r="4.75"/>
<circle cx="714.9" cy="328.3" r="4.75"/>
<circle cx="824.7" cy="272.0" r="4.75"/>
<circle cx="701.2" cy="358.9" r="4.75"/>
<circle cx="701.2" cy="343.9" r="4.75"/>
<circle cx="701.2" cy="389.8" r="4.75"/>
<circle cx="673.8" cy="292.2" r="4.75"/>
<circle cx="879.6" cy="336.7" r="4.75"/>
<circle cx="714.9" cy="344.0" r="4.75"/>
<circle cx="742.4" cy="271.8" r="4.75"/>
<circle cx="646.3" cy="338.3" r="4.75"/>
<circle cx="687.5" cy="307.4" r="4.75"/>
<circle cx="728.6" cy="371.9" r="4.75"/>
<circle cx="824.7" cy="361.5" r="4.75"/>
<circle cx="728.6" cy="357.3" r="4.75"/>
<circle cx="660.0" cy="325.2" r="4.75"/>
<circle cx="769.8" cy="278.9" r="4.75"/>
<circle cx="660.0" cy="339.7" r="4.75"/>
<circle cx="618.9" cy="261.2" r="4.75"/>
<circle cx="879.6" cy="323.6" r="4.75"/>
<circle cx="865.9" cy="330.2" r="4.75"/>
<circle cx="742.4" cy="318.4" r="4.75"/>
<circle cx="756.1" cy="259.5" r="4.75"/>
<circle cx="783.5" cy="254.0" r="4.75"/>
<circle cx="838.5" cy="338.0" r="4.75"/>
<circle cx="618.9" cy="333.4" r="4.75"/>
<circle cx="605.1" cy="338.6" r="4.75"/>
<circle cx="742.4" cy="367.0" r="4.75"/>
<circle cx="783.5" cy="341.4" r="4.75"/>
<circle cx="728.6" cy="298.7" r="4.75"/>
<circle cx="632.6" cy="337.3" r="4.75"/>
<circle cx="742.4" cy="334.6" r="4.75"/>
<circle cx="605.1" cy="355.2" r="4.75"/>
<circle cx="632.6" cy="243.4" r="4.75"/>
<circle cx="756.1" cy="242.6" r="4.75"/>
<circle cx="605.1" cy="250.1" r="4.75"/>
<circle cx="783.5" cy="313.4" r="4.75"/>
<circle cx="742.4" cy="349.6" r="4.75"/>
<circle cx="646.3" cy="249.2" r="4.75"/>
<circle cx="797.3" cy="340.2" r="4.75"/>
<circle cx="660.0" cy="262.7" r="4.75"/>
<circle cx="714.9" cy="236.4" r="4.75"/>
<circle cx="687.5" cy="370.9" r="4.75"/>
<circle cx="701.2" cy="279.8" r="4.75"/>
<circle cx="646.3" cy="397.2" r="4.75"/>
<circle cx="618.9" cy="275.3" r="4.75"/>
<circle cx="824.7" cy="331.6" r="4.75"/>
<circle cx="797.3" cy="282.4" r="4.75"/>
<circle cx="728.6" cy="384.2" r="4.75"/>
<circle cx="838.5" cy="324.4" r="4.75"/>
<circle cx="728.6" cy="241.0" r="4.75"/>
<circle cx="605.1" cy="234.9" r="4.75"/>
<circle cx="742.4" cy="287.4" r="4.75"/>
<circle cx="811.0" cy="365.2" r="4.75"/>
<circle cx="879.6" cy="309.0" r="4.75"/>
<circle cx="742.4" cy="258.3" r="4.75"/>
<circle cx="618.9" cy="288.9" r="4.75"/>
<circle cx="577.7" cy="340.5" r="4.75"/>
<circle cx="632.6" cy="396.4" r="4.75"/>
<circle cx="605.1" cy="399.7" r="4.75"/>
<circle cx="797.3" cy="255.4" r="4.75"/>
<circle cx="660.0" cy="278.0" r="4.75"/>
<circle cx="714.9" cy="313.7" r="4.75"/>
<circle cx="632.6" cy="289.4" r="4.75"/>
<circle cx="824.7" cy="344.2" r="4.75"/>
<circle cx="756.1" cy="334.0" r="4.75"/>
<circle cx="824.7" cy="286.1" r="4.75"/>
<circle cx="701.2" cy="311.3" r="4.75"/>
<circle cx="618.9" cy="232.7" r="4.75"/>
<circle cx="824.7" cy="301.5" r="4.75"/>
<circle cx="701.2" cy="233.3" r="4.75"/>
<circle cx="742.4" cy="304.0" r="4.75"/>
<circle cx="811.0" cy="347.7" r="4.75"/>
<circle cx="742.4" cy="243.1" r="4.75"/>
<circle cx="673.8" cy="323.1" r="4.75"/>
<circle cx="605.1" cy="385.0" r="4.75"/>
<circle cx="687.5" cy="245.2" r="4.75"/>
<circle cx="852.2" cy="317.2" r="4.75"/>
<circle cx="660.0" cy="309.2" r="4.75"/>
<circle cx="783.5" cy="327.9" r="4.75"/>
<circle cx="632.6" cy="274.0" r="4.75"/>
<circle cx="687.5" cy="323.3" r="4.75"/>
<circle cx="687.5" cy="229.1" r="4.75"/>
<circle cx="838.5" cy="297.4" r="4.75"/>
<circle cx="783.5" cy="358.9" r="4.75"/>
<circle cx="605.1" cy="280.9" r="4.75"/>
<circle cx="769.8" cy="340.3" r="4.75"/>
<circle cx="811.0" cy="332.2" r="4.75"/>
<circle cx="714.9" cy="390.0" r="4.75"/>
<circle cx="701.2" cy="219.3" r="4.75"/>
<circle cx="660.0" cy="384.8" r="4.75"/>
<circle cx="701.2" cy="264.8" r="4.75"/>
<circle cx="811.0" cy="302.4" r="4.75"/>
<circle cx="811.0" cy="269.9" r="4.75"/>
<circle cx="687.5" cy="353.9" r="4.75"/>
<circle cx="646.3" cy="293.5" r="4.75"/>
<circle cx="591.4" cy="404.1" r="4.75"/>
<circle cx="728.6" cy="255.4" r="4.75"/>
<circle cx="646.3" cy="325.1" r="4.75"/>
<circle cx="756.1" cy="364.9" r="4.75"/>
<circle cx="701.2" cy="297.6" r="4.75"/>
<circle cx="660.0" cy="354.4" r="4.75"/>
<circle cx="714.9" cy="266.7" r="4.75"/>
<circle cx="577.7" cy="297.6" r="4.75"/>
<circle cx="673.8" cy="245.6" r="4.75"/>
<circle cx="632.6" cy="228.4" r="4.75"/>
<circle cx="756.1" cy="305.6" r="4.75"/>
<circle cx="618.9" cy="364.7" r="4.75"/>
<circle cx="811.0" cy="254.6" r="4.75"/>
<circle cx="646.3" cy="220.4" r="4.75"/>
<circle cx="646.3" cy="309.8" r="4.75"/>
<circle cx="646.3" cy="279.9" r="4.75"/>
<circle cx="769.8" cy="295.0" r="4.75"/>
<circle cx="811.0" cy="318.4" r="4.75"/>
<circle cx="701.2" cy="373.7" r="4.75"/>
<circle cx="591.4" cy="315.2" r="4.75"/>
<circle cx="824.7" cy="314.3" r="4.75"/>
<circle cx="687.5" cy="385.2" r="4.75"/>
<circle cx="632.6" cy="413.5" r="4.75"/>
<circle cx="591.4" cy="342.4" r="4.75"/>
<circle cx="577.7" cy="354.0" r="4.75"/>
<circle cx="687.5" cy="339.8" r="4.75"/>
<circle cx="769.8" cy="310.6" r="4.75"/>
<circle cx="714.9" cy="249.9" r="4.75"/>
<circle cx="632.6" cy="306.0" r="4.75"/>
<circle cx="673.8" cy="383.6" r="4.75"/>
<circle cx="591.4" cy="388.0" r="4.75"/>
<circle cx="756.1" cy="288.2" r="4.75"/>
<circle cx="605.1" cy="324.1" r="4.75"/>
<circle cx="769.8" cy="325.4" r="4.75"/>
<circle cx="646.3" cy="383.9" r="4.75"/>
<circle cx="577.7" cy="398.5" r="4.75"/>
<circle cx="618.9" cy="408.6" r="4.75"/>
<circle cx="660.0" cy="244.9" r="4.75"/>
<circle cx="687.5" cy="214.6" r="4.75"/>
<circle cx="646.3" cy="263.2" r="4.75"/>
<circle cx="811.0" cy="287.8" r="4.75"/>
<circle cx="618.9" cy="303.5" r="4.75"/>
<circle cx="673.8" cy="275.4" r="4.75"/>
<circle cx="756.1" cy="274.5" r="4.75"/>
<circle cx="838.5" cy="282.8" r="4.75"/>
<circle cx="797.3" cy="296.3" r="4.75"/>
<circle cx="577.7" cy="325.8" r="4.75"/>
<circle cx="783.5" cy="282.0" r="4.75"/>
<circle cx="591.4" cy="371.6" r="4.75"/>
<circle cx="865.9" cy="282.2" r="4.75"/>
<circle cx="865.9" cy="314.5" r="4.75"/>
</g>
<rect x="561.3" y="35.5" width="377.7" height="395.5" fill="none" stroke="#4a4a4a" stroke-width="2.2"/>
<path d="M591.4 431.0V437.8M646.3 431.0V437.8M701.2 431.0V437.8M756.1 431.0V437.8M811.0 431.0V437.8M865.9 431.0V437.8M920.8 431.0V437.8M561.3 420.7H555.3M561.3 338.4H555.3M561.3 256.1H555.3M561.3 173.8H555.3M561.3 91.5H555.3" stroke="#505050" stroke-width="2.2" fill="none"/>
<g font-size="26" fill="#000" stroke="#000" stroke-width="0.2">
<text transform="translate(591.4,461.8) scale(1,1.06)" text-anchor="middle">40</text>
<text transform="translate(646.3,461.8) scale(1,1.06)" text-anchor="middle">60</text>
<text transform="translate(701.2,461.8) scale(1,1.06)" text-anchor="middle">80</text>
<text transform="translate(756.1,461.8) scale(1,1.06)" text-anchor="middle">100</text>
<text transform="translate(811.0,461.8) scale(1,1.06)" text-anchor="middle">120</text>
<text transform="translate(865.9,461.8) scale(1,1.06)" text-anchor="middle">140</text>
<text transform="translate(920.8,461.8) scale(1,1.06)" text-anchor="middle">160</text>
<text transform="translate(548.7,430.5) scale(1,1.06)" text-anchor="end">0</text>
<text transform="translate(548.7,348.2) scale(1,1.06)" text-anchor="end">200</text>
<text transform="translate(548.7,265.9) scale(1,1.06)" text-anchor="end">400</text>
<text transform="translate(548.7,183.6) scale(1,1.06)" text-anchor="end">600</text>
<text transform="translate(548.7,101.3) scale(1,1.06)" text-anchor="end">800</text>
</g>
<text transform="translate(750.1,25.3) scale(1,1.06)" font-size="30" stroke="#000" stroke-width="0.15" text-anchor="middle">R34</text>
<text x="750.1" y="498" font-size="33.5" stroke="#000" stroke-width="0.15" text-anchor="middle">MWS [knot]</text>
<text x="490.6" y="60.4" font-size="31" font-weight="bold">B</text>
<text transform="translate(758.20,91.6) scale(0.910,1)" font-size="37" font-style="italic" stroke="#000" stroke-width="0.35">r</text>
<text transform="translate(771.92,88.48) scale(1.059,0.62)" font-size="37" font-style="italic" stroke="#000" stroke-width="1.0">=</text>
<text transform="translate(799.19,91.6) scale(0.881,1)" font-size="37" font-style="italic" stroke="#000" stroke-width="0.35">0</text>
<text transform="translate(819.55,91.6) scale(1.000,1)" font-size="37" font-style="italic" stroke="#000" stroke-width="0.35">.</text>
<text transform="translate(831.29,91.6) scale(0.866,1)" font-size="37" font-style="italic" stroke="#000" stroke-width="0.35">2</text>
<text transform="translate(851.63,91.6) scale(0.842,1)" font-size="37" font-style="italic" stroke="#000" stroke-width="0.35">5</text>
<g fill="url(#mf)" stroke="#000" stroke-width="2.35">
<circle cx="1072.3" cy="276.3" r="4.75"/>
<circle cx="1384.4" cy="244.7" r="4.75"/>
<circle cx="1134.7" cy="289.8" r="4.75"/>
<circle cx="1290.8" cy="330.4" r="4.75"/>
<circle cx="1134.7" cy="363.0" r="4.75"/>
<circle cx="1181.5" cy="341.6" r="4.75"/>
<circle cx="1134.7" cy="375.9" r="4.75"/>
<circle cx="1087.9" cy="208.1" r="4.75"/>
<circle cx="1119.1" cy="242.5" r="4.75"/>
<circle cx="1056.7" cy="271.4" r="4.75"/>
<circle cx="1056.7" cy="183.4" r="4.75"/>
<circle cx="1212.7" cy="256.1" r="4.75"/>
<circle cx="1244.0" cy="258.9" r="4.75"/>
<circle cx="1103.5" cy="379.4" r="4.75"/>
<circle cx="1103.5" cy="362.2" r="4.75"/>
<circle cx="1087.9" cy="298.1" r="4.75"/>
<circle cx="1072.3" cy="289.2" r="4.75"/>
<circle cx="1290.8" cy="300.3" r="4.75"/>
<circle cx="1165.9" cy="287.8" r="4.75"/>
<circle cx="1306.4" cy="342.2" r="4.75"/>
<circle cx="1041.1" cy="352.4" r="4.75"/>
<circle cx="1134.7" cy="307.1" r="4.75"/>
<circle cx="1181.5" cy="333.0" r="4.75"/>
<circle cx="1244.0" cy="250.4" r="4.75"/>
<circle cx="1134.7" cy="208.1" r="4.75"/>
<circle cx="1087.9" cy="255.3" r="4.75"/>
<circle cx="1368.8" cy="328.5" r="4.75"/>
<circle cx="1134.7" cy="179.3" r="4.75"/>
<circle cx="1322.0" cy="320.0" r="4.75"/>
<circle cx="1119.1" cy="397.3" r="4.75"/>
<circle cx="1197.1" cy="373.2" r="4.75"/>
<circle cx="1322.0" cy="332.3" r="4.75"/>
<circle cx="1056.7" cy="245.6" r="4.75"/>
<circle cx="1087.9" cy="272.4" r="4.75"/>
<circle cx="1041.1" cy="288.6" r="4.75"/>
<circle cx="1212.7" cy="372.6" r="4.75"/>
<circle cx="1290.8" cy="317.5" r="4.75"/>
<circle cx="1072.3" cy="349.7" r="4.75"/>
<circle cx="1244.0" cy="227.0" r="4.75"/>
<circle cx="1165.9" cy="356.3" r="4.75"/>
<circle cx="1275.2" cy="249.0" r="4.75"/>
<circle cx="1212.7" cy="325.2" r="4.75"/>
<circle cx="1197.1" cy="285.9" r="4.75"/>
<circle cx="1275.2" cy="314.0" r="4.75"/>
<circle cx="1165.9" cy="304.9" r="4.75"/>
<circle cx="1150.3" cy="354.7" r="4.75"/>
<circle cx="1119.1" cy="384.4" r="4.75"/>
<circle cx="1134.7" cy="388.8" r="4.75"/>
<circle cx="1181.5" cy="358.8" r="4.75"/>
<circle cx="1103.5" cy="275.9" r="4.75"/>
<circle cx="1103.5" cy="388.0" r="4.75"/>
<circle cx="1244.0" cy="377.9" r="4.75"/>
<circle cx="1134.7" cy="393.1" r="4.75"/>
<circle cx="1275.2" cy="344.3" r="4.75"/>
<circle cx="1103.5" cy="237.1" r="4.75"/>
<circle cx="1087.9" cy="336.7" r="4.75"/>
<circle cx="1103.5" cy="215.5" r="4.75"/>
<circle cx="1306.4" cy="338.0" r="4.75"/>
<circle cx="1181.5" cy="367.4" r="4.75"/>
<circle cx="1165.9" cy="231.0" r="4.75"/>
<circle cx="1119.1" cy="255.4" r="4.75"/>
<circle cx="1119.1" cy="221.0" r="4.75"/>
<circle cx="1275.2" cy="262.0" r="4.75"/>
<circle cx="1103.5" cy="392.4" r="4.75"/>
<circle cx="1353.2" cy="361.7" r="4.75"/>
<circle cx="1041.1" cy="216.4" r="4.75"/>
<circle cx="1181.5" cy="328.7" r="4.75"/>
<circle cx="1197.1" cy="368.8" r="4.75"/>
<circle cx="1228.3" cy="344.1" r="4.75"/>
<circle cx="1244.0" cy="305.7" r="4.75"/>
<circle cx="1322.0" cy="244.7" r="4.75"/>
<circle cx="1181.5" cy="354.5" r="4.75"/>
<circle cx="1072.3" cy="237.4" r="4.75"/>
<circle cx="1212.7" cy="312.2" r="4.75"/>
<circle cx="1103.5" cy="263.0" r="4.75"/>
<circle cx="1072.3" cy="211.5" r="4.75"/>
<circle cx="1134.7" cy="221.0" r="4.75"/>
<circle cx="1306.4" cy="287.5" r="4.75"/>
<circle cx="1134.7" cy="285.5" r="4.75"/>
<circle cx="1228.3" cy="266.3" r="4.75"/>
<circle cx="1041.1" cy="182.7" r="4.75"/>
<circle cx="1087.9" cy="323.8" r="4.75"/>
<circle cx="1337.6" cy="316.3" r="4.75"/>
<circle cx="1165.9" cy="253.5" r="4.75"/>
<circle cx="1259.6" cy="351.9" r="4.75"/>
<circle cx="1119.1" cy="315.6" r="4.75"/>
<circle cx="1165.9" cy="322.0" r="4.75"/>
<circle cx="1119.1" cy="405.9" r="4.75"/>
<circle cx="1259.6" cy="390.6" r="4.75"/>
<circle cx="1103.5" cy="323.4" r="4.75"/>
<circle cx="1087.9" cy="362.4" r="4.75"/>
<circle cx="1119.1" cy="319.9" r="4.75"/>
<circle cx="1056.7" cy="348.5" r="4.75"/>
<circle cx="1181.5" cy="345.9" r="4.75"/>
<circle cx="1275.2" cy="217.3" r="4.75"/>
<circle cx="1197.1" cy="329.6" r="4.75"/>
<circle cx="1103.5" cy="198.3" r="4.75"/>
<circle cx="1259.6" cy="216.7" r="4.75"/>
<circle cx="1259.6" cy="356.2" r="4.75"/>
<circle cx="1259.6" cy="261.6" r="4.75"/>
<circle cx="1228.3" cy="249.0" r="4.75"/>
<circle cx="1228.3" cy="257.7" r="4.75"/>
<circle cx="1119.1" cy="298.4" r="4.75"/>
<circle cx="1119.1" cy="276.9" r="4.75"/>
<circle cx="1103.5" cy="224.2" r="4.75"/>
<circle cx="1056.7" cy="262.8" r="4.75"/>
<circle cx="1228.3" cy="244.7" r="4.75"/>
<circle cx="1041.1" cy="322.0" r="4.75"/>
<circle cx="1119.1" cy="367.2" r="4.75"/>
<circle cx="1165.9" cy="394.8" r="4.75"/>
<circle cx="1056.7" cy="279.9" r="4.75"/>
<circle cx="1119.1" cy="307.0" r="4.75"/>
<circle cx="1087.9" cy="182.4" r="4.75"/>
<circle cx="1056.7" cy="361.4" r="4.75"/>
<circle cx="1165.9" cy="217.8" r="4.75"/>
<circle cx="1150.3" cy="273.3" r="4.75"/>
<circle cx="1103.5" cy="401.0" r="4.75"/>
<circle cx="1072.3" cy="315.2" r="4.75"/>
<circle cx="1056.7" cy="318.5" r="4.75"/>
<circle cx="1181.5" cy="217.5" r="4.75"/>
<circle cx="1150.3" cy="346.1" r="4.75"/>
<circle cx="1103.5" cy="344.9" r="4.75"/>
<circle cx="1244.0" cy="352.4" r="4.75"/>
<circle cx="1212.7" cy="290.6" r="4.75"/>
<circle cx="1087.9" cy="306.7" r="4.75"/>
<circle cx="1134.7" cy="225.3" r="4.75"/>
<circle cx="1165.9" cy="296.3" r="4.75"/>
<circle cx="1181.5" cy="384.7" r="4.75"/>
<circle cx="1134.7" cy="341.5" r="4.75"/>
<circle cx="1134.7" cy="268.3" r="4.75"/>
<circle cx="1056.7" cy="297.1" r="4.75"/>
<circle cx="1259.6" cy="257.3" r="4.75"/>
<circle cx="1041.1" cy="251.0" r="4.75"/>
<circle cx="1103.5" cy="288.9" r="4.75"/>
<circle cx="1275.2" cy="283.7" r="4.75"/>
<circle cx="1103.5" cy="357.9" r="4.75"/>
<circle cx="1041.1" cy="361.0" r="4.75"/>
<circle cx="1197.1" cy="272.9" r="4.75"/>
<circle cx="1150.3" cy="277.5" r="4.75"/>
<circle cx="1119.1" cy="328.5" r="4.75"/>
<circle cx="1072.3" cy="144.4" r="4.75"/>
<circle cx="1041.1" cy="280.3" r="4.75"/>
<circle cx="1150.3" cy="367.6" r="4.75"/>
<circle cx="1072.3" cy="319.5" r="4.75"/>
<circle cx="1244.0" cy="301.4" r="4.75"/>
<circle cx="1134.7" cy="320.0" r="4.75"/>
<circle cx="1228.3" cy="383.1" r="4.75"/>
<circle cx="1165.9" cy="386.2" r="4.75"/>
<circle cx="1119.1" cy="238.2" r="4.75"/>
<circle cx="1290.8" cy="273.2" r="4.75"/>
<circle cx="1181.5" cy="268.4" r="4.75"/>
<circle cx="1072.3" cy="293.6" r="4.75"/>
<circle cx="1134.7" cy="328.6" r="4.75"/>
<circle cx="1275.2" cy="331.3" r="4.75"/>
<circle cx="1072.3" cy="136.1" r="4.75"/>
<circle cx="1259.6" cy="386.3" r="4.75"/>
<circle cx="1041.1" cy="369.7" r="4.75"/>
<circle cx="1181.5" cy="380.4" r="4.75"/>
<circle cx="1197.1" cy="377.5" r="4.75"/>
<circle cx="1150.3" cy="235.1" r="4.75"/>
<circle cx="1150.3" cy="161.2" r="4.75"/>
<circle cx="1056.7" cy="162.1" r="4.75"/>
<circle cx="1103.5" cy="172.4" r="4.75"/>
<circle cx="1181.5" cy="307.1" r="4.75"/>
<circle cx="1244.0" cy="326.9" r="4.75"/>
<circle cx="1087.9" cy="341.0" r="4.75"/>
<circle cx="1212.7" cy="251.8" r="4.75"/>
<circle cx="1275.2" cy="393.9" r="4.75"/>
<circle cx="1056.7" cy="391.4" r="4.75"/>
<circle cx="1119.1" cy="354.3" r="4.75"/>
<circle cx="1290.8" cy="347.6" r="4.75"/>
<circle cx="1150.3" cy="299.0" r="4.75"/>
<circle cx="1212.7" cy="247.5" r="4.75"/>
<circle cx="1197.1" cy="338.3" r="4.75"/>
<circle cx="1165.9" cy="347.7" r="4.75"/>
<circle cx="1134.7" cy="251.1" r="4.75"/>
<circle cx="1150.3" cy="320.4" r="4.75"/>
<circle cx="1087.9" cy="392.4" r="4.75"/>
<circle cx="1228.3" cy="335.5" r="4.75"/>
<circle cx="1072.3" cy="397.3" r="4.75"/>
<circle cx="1244.0" cy="348.2" r="4.75"/>
<circle cx="1306.4" cy="256.5" r="4.75"/>
<circle cx="1072.3" cy="280.6" r="4.75"/>
<circle cx="1228.3" cy="283.6" r="4.75"/>
<circle cx="1165.9" cy="313.4" r="4.75"/>
<circle cx="1228.3" cy="270.6" r="4.75"/>
<circle cx="1337.6" cy="320.4" r="4.75"/>
<circle cx="1228.3" cy="387.4" r="4.75"/>
<circle cx="1181.5" cy="315.7" r="4.75"/>
<circle cx="1103.5" cy="293.2" r="4.75"/>
<circle cx="1134.7" cy="298.4" r="4.75"/>
<circle cx="1259.6" cy="394.9" r="4.75"/>
<circle cx="1306.4" cy="308.6" r="4.75"/>
<circle cx="1197.1" cy="251.1" r="4.75"/>
<circle cx="1228.3" cy="227.0" r="4.75"/>
<circle cx="1150.3" cy="307.6" r="4.75"/>
<circle cx="1228.3" cy="326.8" r="4.75"/>
<circle cx="1290.8" cy="334.7" r="4.75"/>
<circle cx="1244.0" cy="309.9" r="4.75"/>
<circle cx="1103.5" cy="206.9" r="4.75"/>
<circle cx="1150.3" cy="230.7" r="4.75"/>
<circle cx="1337.6" cy="244.7" r="4.75"/>
<circle cx="1259.6" cy="300.3" r="4.75"/>
<circle cx="1165.9" cy="352.0" r="4.75"/>
<circle cx="1072.3" cy="371.3" r="4.75"/>
<circle cx="1119.1" cy="246.8" r="4.75"/>
<circle cx="1290.8" cy="356.2" r="4.75"/>
<circle cx="1322.0" cy="315.9" r="4.75"/>
<circle cx="1228.3" cy="172.4" r="4.75"/>
<circle cx="1056.7" cy="335.7" r="4.75"/>
<circle cx="1181.5" cy="281.3" r="4.75"/>
<circle cx="1244.0" cy="386.4" r="4.75"/>
<circle cx="1087.9" cy="371.0" r="4.75"/>
<circle cx="1103.5" cy="336.3" r="4.75"/>
<circle cx="1244.0" cy="275.9" r="4.75"/>
<circle cx="1103.5" cy="366.5" r="4.75"/>
<circle cx="1259.6" cy="274.5" r="4.75"/>
<circle cx="1087.9" cy="353.9" r="4.75"/>
<circle cx="1150.3" cy="260.4" r="4.75"/>
<circle cx="1134.7" cy="384.5" r="4.75"/>
<circle cx="1072.3" cy="328.1" r="4.75"/>
<circle cx="1322.0" cy="372.8" r="4.75"/>
<circle cx="1197.1" cy="221.2" r="4.75"/>
<circle cx="1087.9" cy="242.4" r="4.75"/>
<circle cx="1150.3" cy="337.6" r="4.75"/>
<circle cx="1150.3" cy="363.3" r="4.75"/>
<circle cx="1056.7" cy="322.8" r="4.75"/>
<circle cx="1134.7" cy="371.6" r="4.75"/>
<circle cx="1181.5" cy="363.1" r="4.75"/>
<circle cx="1322.0" cy="274.2" r="4.75"/>
<circle cx="1181.5" cy="311.4" r="4.75"/>
<circle cx="1275.2" cy="279.4" r="4.75"/>
<circle cx="1244.0" cy="382.2" r="4.75"/>
<circle cx="1119.1" cy="337.1" r="4.75"/>
<circle cx="1290.8" cy="364.8" r="4.75"/>
<circle cx="1228.3" cy="305.2" r="4.75"/>
<circle cx="1181.5" cy="294.2" r="4.75"/>
<circle cx="1197.1" cy="316.5" r="4.75"/>
<circle cx="1197.1" cy="325.2" r="4.75"/>
<circle cx="1119.1" cy="345.7" r="4.75"/>
<circle cx="1087.9" cy="263.8" r="4.75"/>
<circle cx="1056.7" cy="284.2" r="4.75"/>
<circle cx="1041.1" cy="348.0" r="4.75"/>
<circle cx="1244.0" cy="360.9" r="4.75"/>
<circle cx="1197.1" cy="216.8" r="4.75"/>
<circle cx="1212.7" cy="282.0" r="4.75"/>
<circle cx="1087.9" cy="173.8" r="4.75"/>
<circle cx="1228.3" cy="370.1" r="4.75"/>
<circle cx="1072.3" cy="401.6" r="4.75"/>
<circle cx="1275.2" cy="322.7" r="4.75"/>
<circle cx="1134.7" cy="401.7" r="4.75"/>
<circle cx="1072.3" cy="310.8" r="4.75"/>
<circle cx="1150.3" cy="329.0" r="4.75"/>
<circle cx="1119.1" cy="311.3" r="4.75"/>
<circle cx="1119.1" cy="332.8" r="4.75"/>
<circle cx="1150.3" cy="286.1" r="4.75"/>
<circle cx="1087.9" cy="225.2" r="4.75"/>
<circle cx="1212.7" cy="303.6" r="4.75"/>
<circle cx="1103.5" cy="185.3" r="4.75"/>
<circle cx="1087.9" cy="289.6" r="4.75"/>
<circle cx="1072.3" cy="358.4" r="4.75"/>
<circle cx="1212.7" cy="295.0" r="4.75"/>
<circle cx="1244.0" cy="356.7" r="4.75"/>
<circle cx="1041.1" cy="408.7" r="4.75"/>
<circle cx="1384.4" cy="344.3" r="4.75"/>
<circle cx="1197.1" cy="381.9" r="4.75"/>
<circle cx="1087.9" cy="366.7" r="4.75"/>
<circle cx="1181.5" cy="251.1" r="4.75"/>
<circle cx="1165.9" cy="377.7" r="4.75"/>
<circle cx="1197.1" cy="208.1" r="4.75"/>
<circle cx="1165.9" cy="309.2" r="4.75"/>
<circle cx="1150.3" cy="393.3" r="4.75"/>
<circle cx="1134.7" cy="294.1" r="4.75"/>
<circle cx="1072.3" cy="367.0" r="4.75"/>
<circle cx="1197.1" cy="264.1" r="4.75"/>
<circle cx="1353.2" cy="290.6" r="4.75"/>
<circle cx="1150.3" cy="239.4" r="4.75"/>
<circle cx="1134.7" cy="276.9" r="4.75"/>
<circle cx="1041.1" cy="267.7" r="4.75"/>
<circle cx="1197.1" cy="229.9" r="4.75"/>
<circle cx="1212.7" cy="355.3" r="4.75"/>
<circle cx="1244.0" cy="271.7" r="4.75"/>
<circle cx="1150.3" cy="303.3" r="4.75"/>
<circle cx="1087.9" cy="345.3" r="4.75"/>
<circle cx="1228.3" cy="287.9" r="4.75"/>
<circle cx="1181.5" cy="272.7" r="4.75"/>
<circle cx="1353.2" cy="281.5" r="4.75"/>
<circle cx="1119.1" cy="289.8" r="4.75"/>
<circle cx="1041.1" cy="395.7" r="4.75"/>
<circle cx="1041.1" cy="259.3" r="4.75"/>
<circle cx="1072.3" cy="165.6" r="4.75"/>
<circle cx="1087.9" cy="259.5" r="4.75"/>
<circle cx="1072.3" cy="241.7" r="4.75"/>
<circle cx="1134.7" cy="255.4" r="4.75"/>
<circle cx="1072.3" cy="272.0" r="4.75"/>
<circle cx="1181.5" cy="222.1" r="4.75"/>
<circle cx="1087.9" cy="186.7" r="4.75"/>
<circle cx="1119.1" cy="233.9" r="4.75"/>
<circle cx="1056.7" cy="228.5" r="4.75"/>
<circle cx="1290.8" cy="287.4" r="4.75"/>
<circle cx="1072.3" cy="250.3" r="4.75"/>
<circle cx="1228.3" cy="322.5" r="4.75"/>
<circle cx="1072.3" cy="323.8" r="4.75"/>
<circle cx="1119.1" cy="294.1" r="4.75"/>
<circle cx="1212.7" cy="320.8" r="4.75"/>
<circle cx="1056.7" cy="339.9" r="4.75"/>
<circle cx="1259.6" cy="369.1" r="4.75"/>
<circle cx="1150.3" cy="311.9" r="4.75"/>
<circle cx="1087.9" cy="190.9" r="4.75"/>
<circle cx="1337.6" cy="312.2" r="4.75"/>
<circle cx="1212.7" cy="277.7" r="4.75"/>
<circle cx="1290.8" cy="326.1" r="4.75"/>
<circle cx="1103.5" cy="301.8" r="4.75"/>
<circle cx="1368.8" cy="308.0" r="4.75"/>
<circle cx="1072.3" cy="228.7" r="4.75"/>
<circle cx="1244.0" cy="373.7" r="4.75"/>
<circle cx="1244.0" cy="297.2" r="4.75"/>
<circle cx="1041.1" cy="238.4" r="4.75"/>
<circle cx="1165.9" cy="330.6" r="4.75"/>
<circle cx="1165.9" cy="279.2" r="4.75"/>
<circle cx="1119.1" cy="268.3" r="4.75"/>
<circle cx="1087.9" cy="332.4" r="4.75"/>
<circle cx="1275.2" cy="292.4" r="4.75"/>
<circle cx="1103.5" cy="319.0" r="4.75"/>
<circle cx="1041.1" cy="271.9" r="4.75"/>
<circle cx="1244.0" cy="339.7" r="4.75"/>
<circle cx="1244.0" cy="267.4" r="4.75"/>
<circle cx="1150.3" cy="248.0" r="4.75"/>
<circle cx="1337.6" cy="361.7" r="4.75"/>
<circle cx="1103.5" cy="258.7" r="4.75"/>
<circle cx="1259.6" cy="253.0" r="4.75"/>
<circle cx="1322.0" cy="328.2" r="4.75"/>
<circle cx="1165.9" cy="270.6" r="4.75"/>
<circle cx="1275.2" cy="379.0" r="4.75"/>
<circle cx="1228.3" cy="296.6" r="4.75"/>
<circle cx="1150.3" cy="294.7" r="4.75"/>
<circle cx="1103.5" cy="297.5" r="4.75"/>
<circle cx="1087.9" cy="383.9" r="4.75"/>
<circle cx="1306.4" cy="300.1" r="4.75"/>
<circle cx="1368.8" cy="334.8" r="4.75"/>
<circle cx="1259.6" cy="343.3" r="4.75"/>
<circle cx="1087.9" cy="212.4" r="4.75"/>
<circle cx="1165.9" cy="222.2" r="4.75"/>
<circle cx="1244.0" cy="365.2" r="4.75"/>
<circle cx="1212.7" cy="329.5" r="4.75"/>
<circle cx="1337.6" cy="328.5" r="4.75"/>
<circle cx="1212.7" cy="307.9" r="4.75"/>
<circle cx="1150.3" cy="376.2" r="4.75"/>
<circle cx="1181.5" cy="298.5" r="4.75"/>
<circle cx="1056.7" cy="374.2" r="4.75"/>
<circle cx="1228.3" cy="357.1" r="4.75"/>
<circle cx="1275.2" cy="361.7" r="4.75"/>
<circle cx="1103.5" cy="349.2" r="4.75"/>
<circle cx="1337.6" cy="349.0" r="4.75"/>
<circle cx="1290.8" cy="304.6" r="4.75"/>
<circle cx="1119.1" cy="225.3" r="4.75"/>
<circle cx="1259.6" cy="347.6" r="4.75"/>
<circle cx="1056.7" cy="404.2" r="4.75"/>
<circle cx="1087.9" cy="319.6" r="4.75"/>
<circle cx="1087.9" cy="233.8" r="4.75"/>
<circle cx="1119.1" cy="401.6" r="4.75"/>
<circle cx="1087.9" cy="178.1" r="4.75"/>
<circle cx="1322.0" cy="279.4" r="4.75"/>
<circle cx="1056.7" cy="378.5" r="4.75"/>
<circle cx="1072.3" cy="362.7" r="4.75"/>
<circle cx="1103.5" cy="250.0" r="4.75"/>
<circle cx="1103.5" cy="267.3" r="4.75"/>
<circle cx="1072.3" cy="405.9" r="4.75"/>
<circle cx="1056.7" cy="365.7" r="4.75"/>
<circle cx="1103.5" cy="310.4" r="4.75"/>
<circle cx="1197.1" cy="281.6" r="4.75"/>
<circle cx="1181.5" cy="324.4" r="4.75"/>
<circle cx="1181.5" cy="255.4" r="4.75"/>
<circle cx="1150.3" cy="333.3" r="4.75"/>
<circle cx="1197.1" cy="333.9" r="4.75"/>
<circle cx="1353.2" cy="353.8" r="4.75"/>
<circle cx="1181.5" cy="350.2" r="4.75"/>
<circle cx="1259.6" cy="291.7" r="4.75"/>
<circle cx="1165.9" cy="334.9" r="4.75"/>
<circle cx="1087.9" cy="388.2" r="4.75"/>
<circle cx="1181.5" cy="208.1" r="4.75"/>
<circle cx="1056.7" cy="292.8" r="4.75"/>
<circle cx="1103.5" cy="396.7" r="4.75"/>
<circle cx="1197.1" cy="277.2" r="4.75"/>
<circle cx="1165.9" cy="382.0" r="4.75"/>
<circle cx="1259.6" cy="287.4" r="4.75"/>
<circle cx="1103.5" cy="340.6" r="4.75"/>
<circle cx="1056.7" cy="202.8" r="4.75"/>
<circle cx="1134.7" cy="324.3" r="4.75"/>
<circle cx="1259.6" cy="326.1" r="4.75"/>
<circle cx="1103.5" cy="194.0" r="4.75"/>
<circle cx="1212.7" cy="338.1" r="4.75"/>
<circle cx="1197.1" cy="386.2" r="4.75"/>
<circle cx="1056.7" cy="344.2" r="4.75"/>
<circle cx="1181.5" cy="231.5" r="4.75"/>
<circle cx="1212.7" cy="359.7" r="4.75"/>
<circle cx="1228.3" cy="361.4" r="4.75"/>
<circle cx="1056.7" cy="207.1" r="4.75"/>
<circle cx="1072.3" cy="302.2" r="4.75"/>
<circle cx="1056.7" cy="382.8" r="4.75"/>
<circle cx="1275.2" cy="244.7" r="4.75"/>
<circle cx="1072.3" cy="246.0" r="4.75"/>
<circle cx="1244.0" cy="246.2" r="4.75"/>
<circle cx="1228.3" cy="365.8" r="4.75"/>
<circle cx="1337.6" cy="308.1" r="4.75"/>
<circle cx="1259.6" cy="235.8" r="4.75"/>
<circle cx="1056.7" cy="352.8" r="4.75"/>
<circle cx="1072.3" cy="345.4" r="4.75"/>
<circle cx="1275.2" cy="327.0" r="4.75"/>
<circle cx="1259.6" cy="360.5" r="4.75"/>
<circle cx="1337.6" cy="300.0" r="4.75"/>
<circle cx="1103.5" cy="405.3" r="4.75"/>
<circle cx="1306.4" cy="329.6" r="4.75"/>
<circle cx="1056.7" cy="309.9" r="4.75"/>
<circle cx="1103.5" cy="202.6" r="4.75"/>
<circle cx="1259.6" cy="296.0" r="4.75"/>
<circle cx="1087.9" cy="401.0" r="4.75"/>
<circle cx="1087.9" cy="293.8" r="4.75"/>
<circle cx="1103.5" cy="383.7" r="4.75"/>
<circle cx="1259.6" cy="334.7" r="4.75"/>
<circle cx="1134.7" cy="380.2" r="4.75"/>
<circle cx="1165.9" cy="257.8" r="4.75"/>
<circle cx="1103.5" cy="314.7" r="4.75"/>
<circle cx="1134.7" cy="242.5" r="4.75"/>
<circle cx="1134.7" cy="238.2" r="4.75"/>
<circle cx="1212.7" cy="351.0" r="4.75"/>
<circle cx="1212.7" cy="333.8" r="4.75"/>
<circle cx="1290.8" cy="244.7" r="4.75"/>
<circle cx="1072.3" cy="254.7" r="4.75"/>
<circle cx="1041.1" cy="246.8" r="4.75"/>
<circle cx="1165.9" cy="239.8" r="4.75"/>
<circle cx="1087.9" cy="281.0" r="4.75"/>
<circle cx="1056.7" cy="357.1" r="4.75"/>
<circle cx="1259.6" cy="373.4" r="4.75"/>
<circle cx="1041.1" cy="374.0" r="4.75"/>
<circle cx="1119.1" cy="208.1" r="4.75"/>
<circle cx="1165.9" cy="262.1" r="4.75"/>
<circle cx="1134.7" cy="367.3" r="4.75"/>
<circle cx="1150.3" cy="389.0" r="4.75"/>
<circle cx="1228.3" cy="309.6" r="4.75"/>
<circle cx="1119.1" cy="272.6" r="4.75"/>
<circle cx="1165.9" cy="317.7" r="4.75"/>
<circle cx="1275.2" cy="253.4" r="4.75"/>
<circle cx="1041.1" cy="356.7" r="4.75"/>
<circle cx="1181.5" cy="246.8" r="4.75"/>
<circle cx="1228.3" cy="275.0" r="4.75"/>
<circle cx="1119.1" cy="362.9" r="4.75"/>
<circle cx="1041.1" cy="382.7" r="4.75"/>
<circle cx="1087.9" cy="358.1" r="4.75"/>
<circle cx="1306.4" cy="333.8" r="4.75"/>
<circle cx="1197.1" cy="347.0" r="4.75"/>
<circle cx="1072.3" cy="198.5" r="4.75"/>
<circle cx="1072.3" cy="306.5" r="4.75"/>
<circle cx="1368.8" cy="244.7" r="4.75"/>
<circle cx="1087.9" cy="136.7" r="4.75"/>
<circle cx="1087.9" cy="147.3" r="4.75"/>
<circle cx="1259.6" cy="313.2" r="4.75"/>
<circle cx="1181.5" cy="277.0" r="4.75"/>
<circle cx="1103.5" cy="332.0" r="4.75"/>
<circle cx="1072.3" cy="220.1" r="4.75"/>
<circle cx="1103.5" cy="211.2" r="4.75"/>
<circle cx="1119.1" cy="259.7" r="4.75"/>
<circle cx="1150.3" cy="226.4" r="4.75"/>
<circle cx="1212.7" cy="342.4" r="4.75"/>
<circle cx="1228.3" cy="279.3" r="4.75"/>
<circle cx="1306.4" cy="363.3" r="4.75"/>
<circle cx="1119.1" cy="388.7" r="4.75"/>
<circle cx="1087.9" cy="285.3" r="4.75"/>
<circle cx="1072.3" cy="384.3" r="4.75"/>
<circle cx="1353.2" cy="309.5" r="4.75"/>
<circle cx="1197.1" cy="294.7" r="4.75"/>
<circle cx="1259.6" cy="283.1" r="4.75"/>
<circle cx="1103.5" cy="219.8" r="4.75"/>
<circle cx="1134.7" cy="350.1" r="4.75"/>
<circle cx="1072.3" cy="78.7" r="4.75"/>
<circle cx="1290.8" cy="321.8" r="4.75"/>
<circle cx="1259.6" cy="330.4" r="4.75"/>
<circle cx="1181.5" cy="376.1" r="4.75"/>
<circle cx="1197.1" cy="212.5" r="4.75"/>
<circle cx="1306.4" cy="317.0" r="4.75"/>
<circle cx="1119.1" cy="216.7" r="4.75"/>
<circle cx="1103.5" cy="353.5" r="4.75"/>
<circle cx="1150.3" cy="316.1" r="4.75"/>
<circle cx="1244.0" cy="172.4" r="4.75"/>
<circle cx="1290.8" cy="343.3" r="4.75"/>
<circle cx="1119.1" cy="371.5" r="4.75"/>
<circle cx="1041.1" cy="326.4" r="4.75"/>
<circle cx="1041.1" cy="365.4" r="4.75"/>
<circle cx="1103.5" cy="136.7" r="4.75"/>
<circle cx="1056.7" cy="219.9" r="4.75"/>
<circle cx="1228.3" cy="262.0" r="4.75"/>
<circle cx="1072.3" cy="215.8" r="4.75"/>
<circle cx="1072.3" cy="259.0" r="4.75"/>
<circle cx="1087.9" cy="328.1" r="4.75"/>
<circle cx="1041.1" cy="335.0" r="4.75"/>
<circle cx="1275.2" cy="374.7" r="4.75"/>
<circle cx="1072.3" cy="53.1" r="4.75"/>
<circle cx="1056.7" cy="327.1" r="4.75"/>
<circle cx="1197.1" cy="342.6" r="4.75"/>
<circle cx="1134.7" cy="281.2" r="4.75"/>
<circle cx="1165.9" cy="390.5" r="4.75"/>
<circle cx="1134.7" cy="246.8" r="4.75"/>
<circle cx="1165.9" cy="274.9" r="4.75"/>
<circle cx="1103.5" cy="327.7" r="4.75"/>
<circle cx="1197.1" cy="303.4" r="4.75"/>
<circle cx="1056.7" cy="249.9" r="4.75"/>
<circle cx="1244.0" cy="254.7" r="4.75"/>
<circle cx="1087.9" cy="199.5" r="4.75"/>
<circle cx="1353.2" cy="320.6" r="4.75"/>
<circle cx="1197.1" cy="255.4" r="4.75"/>
<circle cx="1072.3" cy="392.9" r="4.75"/>
<circle cx="1322.0" cy="350.6" r="4.75"/>
<circle cx="1197.1" cy="360.1" r="4.75"/>
<circle cx="1103.5" cy="245.7" r="4.75"/>
<circle cx="1322.0" cy="361.7" r="4.75"/>
<circle cx="1290.8" cy="224.0" r="4.75"/>
<circle cx="1353.2" cy="336.4" r="4.75"/>
<circle cx="1119.1" cy="380.1" r="4.75"/>
<circle cx="1119.1" cy="147.3" r="4.75"/>
<circle cx="1041.1" cy="387.0" r="4.75"/>
<circle cx="1259.6" cy="278.8" r="4.75"/>
<circle cx="1275.2" cy="335.7" r="4.75"/>
<circle cx="1056.7" cy="395.7" r="4.75"/>
<circle cx="1197.1" cy="259.8" r="4.75"/>
<circle cx="1150.3" cy="397.6" r="4.75"/>
<circle cx="1072.3" cy="284.9" r="4.75"/>
<circle cx="1165.9" cy="226.6" r="4.75"/>
<circle cx="1165.9" cy="172.4" r="4.75"/>
<circle cx="1056.7" cy="232.8" r="4.75"/>
<circle cx="1290.8" cy="308.9" r="4.75"/>
<circle cx="1087.9" cy="238.1" r="4.75"/>
<circle cx="1212.7" cy="346.7" r="4.75"/>
<circle cx="1165.9" cy="360.5" r="4.75"/>
<circle cx="1150.3" cy="341.9" r="4.75"/>
<circle cx="1259.6" cy="244.4" r="4.75"/>
<circle cx="1212.7" cy="218.1" r="4.75"/>
<circle cx="1306.4" cy="312.8" r="4.75"/>
<circle cx="1072.3" cy="224.4" r="4.75"/>
<circle cx="1072.3" cy="161.2" r="4.75"/>
<circle cx="1275.2" cy="301.0" r="4.75"/>
<circle cx="1103.5" cy="176.7" r="4.75"/>
<circle cx="1103.5" cy="232.8" r="4.75"/>
<circle cx="1119.1" cy="186.1" r="4.75"/>
<circle cx="1275.2" cy="340.0" r="4.75"/>
<circle cx="1134.7" cy="354.4" r="4.75"/>
<circle cx="1290.8" cy="291.7" r="4.75"/>
<circle cx="1119.1" cy="285.5" r="4.75"/>
<circle cx="1212.7" cy="364.0" r="4.75"/>
<circle cx="1165.9" cy="339.1" r="4.75"/>
<circle cx="1103.5" cy="370.8" r="4.75"/>
<circle cx="1056.7" cy="314.2" r="4.75"/>
<circle cx="1197.1" cy="172.4" r="4.75"/>
<circle cx="1228.3" cy="300.9" r="4.75"/>
<circle cx="1056.7" cy="147.3" r="4.75"/>
<circle cx="1228.3" cy="318.2" r="4.75"/>
<circle cx="1197.1" cy="234.3" r="4.75"/>
<circle cx="1244.0" cy="390.7" r="4.75"/>
<circle cx="1368.8" cy="289.8" r="4.75"/>
<circle cx="1322.0" cy="303.5" r="4.75"/>
<circle cx="1103.5" cy="254.3" r="4.75"/>
<circle cx="1197.1" cy="268.5" r="4.75"/>
<circle cx="1165.9" cy="326.3" r="4.75"/>
<circle cx="1056.7" cy="288.5" r="4.75"/>
<circle cx="1244.0" cy="343.9" r="4.75"/>
<circle cx="1259.6" cy="270.2" r="4.75"/>
<circle cx="1103.5" cy="228.5" r="4.75"/>
<circle cx="1165.9" cy="266.3" r="4.75"/>
<circle cx="1337.6" cy="276.2" r="4.75"/>
<circle cx="1228.3" cy="374.4" r="4.75"/>
<circle cx="1228.3" cy="313.9" r="4.75"/>
<circle cx="1056.7" cy="412.8" r="4.75"/>
<circle cx="1228.3" cy="292.3" r="4.75"/>
<circle cx="1150.3" cy="290.4" r="4.75"/>
<circle cx="1212.7" cy="269.1" r="4.75"/>
<circle cx="1228.3" cy="348.5" r="4.75"/>
<circle cx="1119.1" cy="350.0" r="4.75"/>
<circle cx="1322.0" cy="299.4" r="4.75"/>
<circle cx="1087.9" cy="203.8" r="4.75"/>
<circle cx="1134.7" cy="212.4" r="4.75"/>
<circle cx="1056.7" cy="224.2" r="4.75"/>
<circle cx="1087.9" cy="276.7" r="4.75"/>
<circle cx="1228.3" cy="208.7" r="4.75"/>
<circle cx="1119.1" cy="324.2" r="4.75"/>
<circle cx="1119.1" cy="302.7" r="4.75"/>
<circle cx="1134.7" cy="358.7" r="4.75"/>
<circle cx="1041.1" cy="242.6" r="4.75"/>
<circle cx="1244.0" cy="218.1" r="4.75"/>
<circle cx="1181.5" cy="393.3" r="4.75"/>
<circle cx="1103.5" cy="375.1" r="4.75"/>
<circle cx="1244.0" cy="331.2" r="4.75"/>
<circle cx="1275.2" cy="348.7" r="4.75"/>
<circle cx="1322.0" cy="307.6" r="4.75"/>
<circle cx="1119.1" cy="229.6" r="4.75"/>
<circle cx="1181.5" cy="289.9" r="4.75"/>
<circle cx="1290.8" cy="360.5" r="4.75"/>
<circle cx="1087.9" cy="246.7" r="4.75"/>
<circle cx="1322.0" cy="311.7" r="4.75"/>
<circle cx="1150.3" cy="217.8" r="4.75"/>
<circle cx="1259.6" cy="321.8" r="4.75"/>
<circle cx="1119.1" cy="375.8" r="4.75"/>
<circle cx="1212.7" cy="208.7" r="4.75"/>
<circle cx="1134.7" cy="191.6" r="4.75"/>
<circle cx="1244.0" cy="284.4" r="4.75"/>
<circle cx="1134.7" cy="164.1" r="4.75"/>
<circle cx="1181.5" cy="397.6" r="4.75"/>
<circle cx="1165.9" cy="283.5" r="4.75"/>
<circle cx="1197.1" cy="320.8" r="4.75"/>
<circle cx="1181.5" cy="242.5" r="4.75"/>
<circle cx="1087.9" cy="302.4" r="4.75"/>
<circle cx="1150.3" cy="359.0" r="4.75"/>
<circle cx="1072.3" cy="332.4" r="4.75"/>
<circle cx="1259.6" cy="364.8" r="4.75"/>
<circle cx="1087.9" cy="315.3" r="4.75"/>
<circle cx="1197.1" cy="290.3" r="4.75"/>
<circle cx="1181.5" cy="337.3" r="4.75"/>
<circle cx="1244.0" cy="318.4" r="4.75"/>
<circle cx="1150.3" cy="380.5" r="4.75"/>
<circle cx="1134.7" cy="332.9" r="4.75"/>
<circle cx="1322.0" cy="324.1" r="4.75"/>
<circle cx="1197.1" cy="364.4" r="4.75"/>
<circle cx="1087.9" cy="311.0" r="4.75"/>
<circle cx="1259.6" cy="265.9" r="4.75"/>
<circle cx="1134.7" cy="315.7" r="4.75"/>
<circle cx="1134.7" cy="311.4" r="4.75"/>
<circle cx="1165.9" cy="300.6" r="4.75"/>
<circle cx="1056.7" cy="387.1" r="4.75"/>
<circle cx="1275.2" cy="288.0" r="4.75"/>
<circle cx="1056.7" cy="305.6" r="4.75"/>
<circle cx="1041.1" cy="284.4" r="4.75"/>
<circle cx="1041.1" cy="391.4" r="4.75"/>
<circle cx="1212.7" cy="227.0" r="4.75"/>
<circle cx="1119.1" cy="264.0" r="4.75"/>
<circle cx="1197.1" cy="246.7" r="4.75"/>
<circle cx="1212.7" cy="264.8" r="4.75"/>
<circle cx="1228.3" cy="391.7" r="4.75"/>
<circle cx="1134.7" cy="233.9" r="4.75"/>
<circle cx="1056.7" cy="408.5" r="4.75"/>
<circle cx="1087.9" cy="221.0" r="4.75"/>
<circle cx="1275.2" cy="224.0" r="4.75"/>
<circle cx="1056.7" cy="258.5" r="4.75"/>
<circle cx="1087.9" cy="405.3" r="4.75"/>
<circle cx="1181.5" cy="389.0" r="4.75"/>
<circle cx="1119.1" cy="212.4" r="4.75"/>
<circle cx="1244.0" cy="292.9" r="4.75"/>
<circle cx="1119.1" cy="358.6" r="4.75"/>
<circle cx="1041.1" cy="330.7" r="4.75"/>
<circle cx="1275.2" cy="309.7" r="4.75"/>
<circle cx="1072.3" cy="388.6" r="4.75"/>
<circle cx="1353.2" cy="372.8" r="4.75"/>
<circle cx="1103.5" cy="306.1" r="4.75"/>
<circle cx="1072.3" cy="207.1" r="4.75"/>
<circle cx="1072.3" cy="354.0" r="4.75"/>
<circle cx="1041.1" cy="276.1" r="4.75"/>
<circle cx="1041.1" cy="255.1" r="4.75"/>
<circle cx="1181.5" cy="285.6" r="4.75"/>
<circle cx="1041.1" cy="317.7" r="4.75"/>
<circle cx="1322.0" cy="295.3" r="4.75"/>
<circle cx="1087.9" cy="251.0" r="4.75"/>
<circle cx="1306.4" cy="350.7" r="4.75"/>
<circle cx="1197.1" cy="299.0" r="4.75"/>
<circle cx="1275.2" cy="305.4" r="4.75"/>
<circle cx="1306.4" cy="354.9" r="4.75"/>
<circle cx="1072.3" cy="267.6" r="4.75"/>
<circle cx="1228.3" cy="352.8" r="4.75"/>
<circle cx="1181.5" cy="212.8" r="4.75"/>
<circle cx="1322.0" cy="336.4" r="4.75"/>
<circle cx="1087.9" cy="268.1" r="4.75"/>
<circle cx="1244.0" cy="394.9" r="4.75"/>
<circle cx="1259.6" cy="240.1" r="4.75"/>
<circle cx="1165.9" cy="292.0" r="4.75"/>
<circle cx="1041.1" cy="297.0" r="4.75"/>
<circle cx="1056.7" cy="331.4" r="4.75"/>
<circle cx="1181.5" cy="371.8" r="4.75"/>
<circle cx="1165.9" cy="369.1" r="4.75"/>
<circle cx="1244.0" cy="322.7" r="4.75"/>
<circle cx="1322.0" cy="284.5" r="4.75"/>
<circle cx="1072.3" cy="341.1" r="4.75"/>
<circle cx="1306.4" cy="346.5" r="4.75"/>
<circle cx="1212.7" cy="368.3" r="4.75"/>
<circle cx="1244.0" cy="288.7" r="4.75"/>
<circle cx="1212.7" cy="260.5" r="4.75"/>
<circle cx="1056.7" cy="275.6" r="4.75"/>
<circle cx="1244.0" cy="335.4" r="4.75"/>
<circle cx="1275.2" cy="296.7" r="4.75"/>
<circle cx="1244.0" cy="280.2" r="4.75"/>
<circle cx="1181.5" cy="302.8" r="4.75"/>
<circle cx="1041.1" cy="339.4" r="4.75"/>
<circle cx="1134.7" cy="345.8" r="4.75"/>
<circle cx="1041.1" cy="404.4" r="4.75"/>
<circle cx="1306.4" cy="304.3" r="4.75"/>
<circle cx="1087.9" cy="396.7" r="4.75"/>
<circle cx="1134.7" cy="272.6" r="4.75"/>
<circle cx="1119.1" cy="281.2" r="4.75"/>
<circle cx="1244.0" cy="263.2" r="4.75"/>
<circle cx="1134.7" cy="302.7" r="4.75"/>
<circle cx="1087.9" cy="195.2" r="4.75"/>
<circle cx="1150.3" cy="384.7" r="4.75"/>
<circle cx="1041.1" cy="292.8" r="4.75"/>
<circle cx="1275.2" cy="357.3" r="4.75"/>
<circle cx="1306.4" cy="321.2" r="4.75"/>
<circle cx="1181.5" cy="259.7" r="4.75"/>
<circle cx="1056.7" cy="198.5" r="4.75"/>
<circle cx="1087.9" cy="379.6" r="4.75"/>
<circle cx="1290.8" cy="296.0" r="4.75"/>
<circle cx="1072.3" cy="263.3" r="4.75"/>
<circle cx="1087.9" cy="349.6" r="4.75"/>
<circle cx="1306.4" cy="234.4" r="4.75"/>
<circle cx="1197.1" cy="225.6" r="4.75"/>
<circle cx="1275.2" cy="257.7" r="4.75"/>
<circle cx="1290.8" cy="313.2" r="4.75"/>
<circle cx="1056.7" cy="211.4" r="4.75"/>
<circle cx="1103.5" cy="280.2" r="4.75"/>
<circle cx="1056.7" cy="399.9" r="4.75"/>
<circle cx="1306.4" cy="291.7" r="4.75"/>
<circle cx="1259.6" cy="248.7" r="4.75"/>
<circle cx="1306.4" cy="325.4" r="4.75"/>
<circle cx="1306.4" cy="359.1" r="4.75"/>
<circle cx="1290.8" cy="339.0" r="4.75"/>
<circle cx="1259.6" cy="382.0" r="4.75"/>
<circle cx="1087.9" cy="229.5" r="4.75"/>
<circle cx="1259.6" cy="339.0" r="4.75"/>
<circle cx="1165.9" cy="235.4" r="4.75"/>
<circle cx="1259.6" cy="317.5" r="4.75"/>
<circle cx="1228.3" cy="331.2" r="4.75"/>
<circle cx="1212.7" cy="273.4" r="4.75"/>
<circle cx="1056.7" cy="301.4" r="4.75"/>
<circle cx="1275.2" cy="366.0" r="4.75"/>
<circle cx="1259.6" cy="304.6" r="4.75"/>
<circle cx="1197.1" cy="312.1" r="4.75"/>
<circle cx="1103.5" cy="181.0" r="4.75"/>
<circle cx="1056.7" cy="241.4" r="4.75"/>
<circle cx="1041.1" cy="263.5" r="4.75"/>
<circle cx="1072.3" cy="297.9" r="4.75"/>
<circle cx="1134.7" cy="264.0" r="4.75"/>
<circle cx="1041.1" cy="201.3" r="4.75"/>
<circle cx="1056.7" cy="254.2" r="4.75"/>
<circle cx="1244.0" cy="314.2" r="4.75"/>
<circle cx="1228.3" cy="339.8" r="4.75"/>
<circle cx="1165.9" cy="373.4" r="4.75"/>
<circle cx="1212.7" cy="390.1" r="4.75"/>
<circle cx="1165.9" cy="343.4" r="4.75"/>
<circle cx="1056.7" cy="215.6" r="4.75"/>
<circle cx="1072.3" cy="202.8" r="4.75"/>
<circle cx="1275.2" cy="266.4" r="4.75"/>
<circle cx="1244.0" cy="369.4" r="4.75"/>
<circle cx="1072.3" cy="380.0" r="4.75"/>
<circle cx="1134.7" cy="259.7" r="4.75"/>
<circle cx="1337.6" cy="304.1" r="4.75"/>
<circle cx="1134.7" cy="337.2" r="4.75"/>
<circle cx="1103.5" cy="189.7" r="4.75"/>
<circle cx="1353.2" cy="268.3" r="4.75"/>
<circle cx="1072.3" cy="336.8" r="4.75"/>
<circle cx="1197.1" cy="390.6" r="4.75"/>
<circle cx="1275.2" cy="353.0" r="4.75"/>
<circle cx="1103.5" cy="241.4" r="4.75"/>
<circle cx="1150.3" cy="281.8" r="4.75"/>
<circle cx="1212.7" cy="299.3" r="4.75"/>
<circle cx="1119.1" cy="341.4" r="4.75"/>
<circle cx="1212.7" cy="286.3" r="4.75"/>
<circle cx="1150.3" cy="222.1" r="4.75"/>
<circle cx="1165.9" cy="364.8" r="4.75"/>
<circle cx="1212.7" cy="243.2" r="4.75"/>
<circle cx="1150.3" cy="324.7" r="4.75"/>
<circle cx="1134.7" cy="229.6" r="4.75"/>
<circle cx="1134.7" cy="216.7" r="4.75"/>
<circle cx="1056.7" cy="267.1" r="4.75"/>
<circle cx="1244.0" cy="237.3" r="4.75"/>
<circle cx="1119.1" cy="251.1" r="4.75"/>
<circle cx="1181.5" cy="264.0" r="4.75"/>
<circle cx="1150.3" cy="269.0" r="4.75"/>
<circle cx="1181.5" cy="320.1" r="4.75"/>
<circle cx="1119.1" cy="393.0" r="4.75"/>
<circle cx="1103.5" cy="271.6" r="4.75"/>
<circle cx="1228.3" cy="378.7" r="4.75"/>
<circle cx="1228.3" cy="253.3" r="4.75"/>
<circle cx="1197.1" cy="307.7" r="4.75"/>
<circle cx="1150.3" cy="264.7" r="4.75"/>
<circle cx="1150.3" cy="371.9" r="4.75"/>
<circle cx="1275.2" cy="370.3" r="4.75"/>
<circle cx="1337.6" cy="372.8" r="4.75"/>
<circle cx="1150.3" cy="243.7" r="4.75"/>
<circle cx="1072.3" cy="375.7" r="4.75"/>
<circle cx="1259.6" cy="377.7" r="4.75"/>
<circle cx="1181.5" cy="226.8" r="4.75"/>
<circle cx="1337.6" cy="324.4" r="4.75"/>
<circle cx="1103.5" cy="284.5" r="4.75"/>
<circle cx="1041.1" cy="400.0" r="4.75"/>
<circle cx="1087.9" cy="216.7" r="4.75"/>
<circle cx="1259.6" cy="224.0" r="4.75"/>
<circle cx="1197.1" cy="355.7" r="4.75"/>
<circle cx="1197.1" cy="351.4" r="4.75"/>
<circle cx="1212.7" cy="316.5" r="4.75"/>
<circle cx="1072.3" cy="233.1" r="4.75"/>
<circle cx="1134.7" cy="397.4" r="4.75"/>
<circle cx="1103.5" cy="147.3" r="4.75"/>
<circle cx="1306.4" cy="295.9" r="4.75"/>
<circle cx="1056.7" cy="237.1" r="4.75"/>
<circle cx="1259.6" cy="308.9" r="4.75"/>
<circle cx="1041.1" cy="343.7" r="4.75"/>
<circle cx="1041.1" cy="378.4" r="4.75"/>
<circle cx="1275.2" cy="318.3" r="4.75"/>
<circle cx="1275.2" cy="270.7" r="4.75"/>
<circle cx="1150.3" cy="350.4" r="4.75"/>
<circle cx="1275.2" cy="275.0" r="4.75"/>
<circle cx="1087.9" cy="375.3" r="4.75"/>
<circle cx="1056.7" cy="369.9" r="4.75"/>
<circle cx="1290.8" cy="351.9" r="4.75"/>
<circle cx="1275.2" cy="309.3" r="4.75"/>
<circle cx="1228.3" cy="307.6" r="4.75"/>
<circle cx="1103.5" cy="340.3" r="4.75"/>
<circle cx="1134.7" cy="243.3" r="4.75"/>
<circle cx="1197.1" cy="355.1" r="4.75"/>
<circle cx="1212.7" cy="277.1" r="4.75"/>
<circle cx="1103.5" cy="300.8" r="4.75"/>
<circle cx="1103.5" cy="252.8" r="4.75"/>
<circle cx="1150.3" cy="295.3" r="4.75"/>
<circle cx="1228.3" cy="297.4" r="4.75"/>
<circle cx="1041.1" cy="396.3" r="4.75"/>
<circle cx="1072.3" cy="282.0" r="4.75"/>
<circle cx="1103.5" cy="368.0" r="4.75"/>
<circle cx="1056.7" cy="361.1" r="4.75"/>
<circle cx="1087.9" cy="296.6" r="4.75"/>
<circle cx="1134.7" cy="311.3" r="4.75"/>
<circle cx="1197.1" cy="346.7" r="4.75"/>
<circle cx="1056.7" cy="214.8" r="4.75"/>
<circle cx="1275.2" cy="250.2" r="4.75"/>
<circle cx="1103.5" cy="387.2" r="4.75"/>
<circle cx="1181.5" cy="312.3" r="4.75"/>
<circle cx="1259.6" cy="252.3" r="4.75"/>
<circle cx="1056.7" cy="370.0" r="4.75"/>
<circle cx="1181.5" cy="350.8" r="4.75"/>
<circle cx="1322.0" cy="332.3" r="4.75"/>
<circle cx="1119.1" cy="277.5" r="4.75"/>
<circle cx="1197.1" cy="363.8" r="4.75"/>
<circle cx="1087.9" cy="277.8" r="4.75"/>
<circle cx="1150.3" cy="229.2" r="4.75"/>
<circle cx="1197.1" cy="287.3" r="4.75"/>
<circle cx="1275.2" cy="348.7" r="4.75"/>
<circle cx="1228.3" cy="256.9" r="4.75"/>
<circle cx="1259.6" cy="271.3" r="4.75"/>
<circle cx="1197.1" cy="233.2" r="4.75"/>
<circle cx="1072.3" cy="321.2" r="4.75"/>
<circle cx="1275.2" cy="357.4" r="4.75"/>
<circle cx="1306.4" cy="290.4" r="4.75"/>
<circle cx="1244.0" cy="263.4" r="4.75"/>
<circle cx="1150.3" cy="325.9" r="4.75"/>
<circle cx="1275.2" cy="270.7" r="4.75"/>
<circle cx="1119.1" cy="258.1" r="4.75"/>
<circle cx="1244.0" cy="253.4" r="4.75"/>
<circle cx="1290.8" cy="288.9" r="4.75"/>
<circle cx="1181.5" cy="342.0" r="4.75"/>
<circle cx="1119.1" cy="306.0" r="4.75"/>
<circle cx="1134.7" cy="272.5" r="4.75"/>
<circle cx="1134.7" cy="231.3" r="4.75"/>
<circle cx="1212.7" cy="328.5" r="4.75"/>
<circle cx="1072.3" cy="233.1" r="4.75"/>
<circle cx="1056.7" cy="380.6" r="4.75"/>
<circle cx="1337.6" cy="301.4" r="4.75"/>
<circle cx="1228.3" cy="286.5" r="4.75"/>
<circle cx="1103.5" cy="223.3" r="4.75"/>
<circle cx="1197.1" cy="224.8" r="4.75"/>
<circle cx="1306.4" cy="355.4" r="4.75"/>
<circle cx="1212.7" cy="296.7" r="4.75"/>
<circle cx="1244.0" cy="335.4" r="4.75"/>
<circle cx="1181.5" cy="294.0" r="4.75"/>
<circle cx="1087.9" cy="190.9" r="4.75"/>
<circle cx="1134.7" cy="301.2" r="4.75"/>
<circle cx="1212.7" cy="246.6" r="4.75"/>
<circle cx="1228.3" cy="335.9" r="4.75"/>
<circle cx="1119.1" cy="365.4" r="4.75"/>
<circle cx="1072.3" cy="252.9" r="4.75"/>
<circle cx="1259.6" cy="359.7" r="4.75"/>
<circle cx="1306.4" cy="327.4" r="4.75"/>
<circle cx="1119.1" cy="248.0" r="4.75"/>
<circle cx="1290.8" cy="309.6" r="4.75"/>
<circle cx="1306.4" cy="347.3" r="4.75"/>
<circle cx="1134.7" cy="328.6" r="4.75"/>
<circle cx="1087.9" cy="255.9" r="4.75"/>
<circle cx="1181.5" cy="330.2" r="4.75"/>
<circle cx="1087.9" cy="286.6" r="4.75"/>
<circle cx="1119.1" cy="326.0" r="4.75"/>
<circle cx="1228.3" cy="386.6" r="4.75"/>
<circle cx="1056.7" cy="303.8" r="4.75"/>
<circle cx="1103.5" cy="328.6" r="4.75"/>
<circle cx="1275.2" cy="367.7" r="4.75"/>
<circle cx="1087.9" cy="314.1" r="4.75"/>
<circle cx="1275.2" cy="259.7" r="4.75"/>
<circle cx="1103.5" cy="348.6" r="4.75"/>
<circle cx="1150.3" cy="286.9" r="4.75"/>
<circle cx="1165.9" cy="280.5" r="4.75"/>
<circle cx="1197.1" cy="306.8" r="4.75"/>
<circle cx="1259.6" cy="309.2" r="4.75"/>
<circle cx="1228.3" cy="355.9" r="4.75"/>
<circle cx="1119.1" cy="217.7" r="4.75"/>
<circle cx="1041.1" cy="347.2" r="4.75"/>
<circle cx="1290.8" cy="357.2" r="4.75"/>
<circle cx="1072.3" cy="361.3" r="4.75"/>
<circle cx="1181.5" cy="255.4" r="4.75"/>
<circle cx="1150.3" cy="316.3" r="4.75"/>
<circle cx="1244.0" cy="294.4" r="4.75"/>
<circle cx="1041.1" cy="356.0" r="4.75"/>
<circle cx="1212.7" cy="367.2" r="4.75"/>
<circle cx="1322.0" cy="299.6" r="4.75"/>
<circle cx="1165.9" cy="290.7" r="4.75"/>
<circle cx="1259.6" cy="341.7" r="4.75"/>
<circle cx="1087.9" cy="373.3" r="4.75"/>
<circle cx="1041.1" cy="278.9" r="4.75"/>
<circle cx="1306.4" cy="300.7" r="4.75"/>
<circle cx="1134.7" cy="357.4" r="4.75"/>
<circle cx="1181.5" cy="283.5" r="4.75"/>
<circle cx="1306.4" cy="337.1" r="4.75"/>
<circle cx="1290.8" cy="338.0" r="4.75"/>
<circle cx="1259.6" cy="390.6" r="4.75"/>
<circle cx="1165.9" cy="302.6" r="4.75"/>
<circle cx="1041.1" cy="286.2" r="4.75"/>
<circle cx="1228.3" cy="377.2" r="4.75"/>
<circle cx="1244.0" cy="345.1" r="4.75"/>
<circle cx="1165.9" cy="270.2" r="4.75"/>
<circle cx="1322.0" cy="283.1" r="4.75"/>
<circle cx="1056.7" cy="224.4" r="4.75"/>
<circle cx="1119.1" cy="376.5" r="4.75"/>
<circle cx="1197.1" cy="315.7" r="4.75"/>
<circle cx="1103.5" cy="233.2" r="4.75"/>
<circle cx="1228.3" cy="247.9" r="4.75"/>
<circle cx="1228.3" cy="345.6" r="4.75"/>
<circle cx="1087.9" cy="392.9" r="4.75"/>
<circle cx="1181.5" cy="274.4" r="4.75"/>
<circle cx="1197.1" cy="215.1" r="4.75"/>
<circle cx="1072.3" cy="215.2" r="4.75"/>
<circle cx="1150.3" cy="335.3" r="4.75"/>
<circle cx="1103.5" cy="282.3" r="4.75"/>
<circle cx="1134.7" cy="213.0" r="4.75"/>
<circle cx="1072.3" cy="371.0" r="4.75"/>
<circle cx="1087.9" cy="227.3" r="4.75"/>
<circle cx="1072.3" cy="381.9" r="4.75"/>
<circle cx="1041.1" cy="388.1" r="4.75"/>
<circle cx="1197.1" cy="335.0" r="4.75"/>
<circle cx="1165.9" cy="331.1" r="4.75"/>
<circle cx="1041.1" cy="366.4" r="4.75"/>
<circle cx="1041.1" cy="407.9" r="4.75"/>
<circle cx="1212.7" cy="338.0" r="4.75"/>
<circle cx="1150.3" cy="355.0" r="4.75"/>
<circle cx="1134.7" cy="319.4" r="4.75"/>
<circle cx="1228.3" cy="267.3" r="4.75"/>
<circle cx="1150.3" cy="266.5" r="4.75"/>
<circle cx="1087.9" cy="180.8" r="4.75"/>
<circle cx="1087.9" cy="402.6" r="4.75"/>
<circle cx="1322.0" cy="312.2" r="4.75"/>
<circle cx="1150.3" cy="240.4" r="4.75"/>
<circle cx="1103.5" cy="320.7" r="4.75"/>
<circle cx="1181.5" cy="322.5" r="4.75"/>
<circle cx="1181.5" cy="361.4" r="4.75"/>
<circle cx="1056.7" cy="313.6" r="4.75"/>
<circle cx="1244.0" cy="382.6" r="4.75"/>
<circle cx="1134.7" cy="290.4" r="4.75"/>
<circle cx="1072.3" cy="301.2" r="4.75"/>
<circle cx="1103.5" cy="291.8" r="4.75"/>
<circle cx="1087.9" cy="345.1" r="4.75"/>
<circle cx="1072.3" cy="203.1" r="4.75"/>
<circle cx="1103.5" cy="357.7" r="4.75"/>
<circle cx="1041.1" cy="325.8" r="4.75"/>
<circle cx="1041.1" cy="336.1" r="4.75"/>
<circle cx="1244.0" cy="312.8" r="4.75"/>
<circle cx="1337.6" cy="312.5" r="4.75"/>
<circle cx="1087.9" cy="220.2" r="4.75"/>
<circle cx="1087.9" cy="238.7" r="4.75"/>
<circle cx="1150.3" cy="344.6" r="4.75"/>
<circle cx="1150.3" cy="376.1" r="4.75"/>
<circle cx="1087.9" cy="324.9" r="4.75"/>
<circle cx="1244.0" cy="355.1" r="4.75"/>
<circle cx="1322.0" cy="320.5" r="4.75"/>
<circle cx="1275.2" cy="289.4" r="4.75"/>
<circle cx="1103.5" cy="173.2" r="4.75"/>
<circle cx="1134.7" cy="338.1" r="4.75"/>
<circle cx="1072.3" cy="311.8" r="4.75"/>
<circle cx="1197.1" cy="385.4" r="4.75"/>
<circle cx="1119.1" cy="267.6" r="4.75"/>
<circle cx="1290.8" cy="326.9" r="4.75"/>
<circle cx="1165.9" cy="261.9" r="4.75"/>
<circle cx="1259.6" cy="379.5" r="4.75"/>
<circle cx="1087.9" cy="268.0" r="4.75"/>
<circle cx="1212.7" cy="347.0" r="4.75"/>
<circle cx="1103.5" cy="193.6" r="4.75"/>
<circle cx="1306.4" cy="317.0" r="4.75"/>
<circle cx="1197.1" cy="268.0" r="4.75"/>
<circle cx="1181.5" cy="303.8" r="4.75"/>
<circle cx="1041.1" cy="257.2" r="4.75"/>
<circle cx="1197.1" cy="250.3" r="4.75"/>
<circle cx="1056.7" cy="233.3" r="4.75"/>
<circle cx="1134.7" cy="368.2" r="4.75"/>
<circle cx="1212.7" cy="256.7" r="4.75"/>
<circle cx="1197.1" cy="297.7" r="4.75"/>
<circle cx="1197.1" cy="278.8" r="4.75"/>
<circle cx="1134.7" cy="398.4" r="4.75"/>
<circle cx="1119.1" cy="344.9" r="4.75"/>
<circle cx="1228.3" cy="325.9" r="4.75"/>
<circle cx="1275.2" cy="317.1" r="4.75"/>
<circle cx="1072.3" cy="241.9" r="4.75"/>
<circle cx="1181.5" cy="379.4" r="4.75"/>
<circle cx="1119.1" cy="295.8" r="4.75"/>
<circle cx="1259.6" cy="329.7" r="4.75"/>
<circle cx="1181.5" cy="210.3" r="4.75"/>
<circle cx="1056.7" cy="331.4" r="4.75"/>
<circle cx="1072.3" cy="332.0" r="4.75"/>
<circle cx="1087.9" cy="364.4" r="4.75"/>
<circle cx="1087.9" cy="306.5" r="4.75"/>
<circle cx="1056.7" cy="205.8" r="4.75"/>
<circle cx="1041.1" cy="377.1" r="4.75"/>
<circle cx="1212.7" cy="306.7" r="4.75"/>
<circle cx="1244.0" cy="275.3" r="4.75"/>
<circle cx="1103.5" cy="270.2" r="4.75"/>
<circle cx="1041.1" cy="267.8" r="4.75"/>
<circle cx="1087.9" cy="334.5" r="4.75"/>
<circle cx="1275.2" cy="376.0" r="4.75"/>
<circle cx="1056.7" cy="341.0" r="4.75"/>
<circle cx="1072.3" cy="350.6" r="4.75"/>
<circle cx="1103.5" cy="379.1" r="4.75"/>
<circle cx="1181.5" cy="388.4" r="4.75"/>
<circle cx="1119.1" cy="336.6" r="4.75"/>
<circle cx="1150.3" cy="305.0" r="4.75"/>
<circle cx="1072.3" cy="223.1" r="4.75"/>
<circle cx="1165.9" cy="311.4" r="4.75"/>
<circle cx="1165.9" cy="340.8" r="4.75"/>
<circle cx="1072.3" cy="263.1" r="4.75"/>
<circle cx="1337.6" cy="320.6" r="4.75"/>
<circle cx="1119.1" cy="237.5" r="4.75"/>
<circle cx="1134.7" cy="350.0" r="4.75"/>
<circle cx="1259.6" cy="241.5" r="4.75"/>
<circle cx="1197.1" cy="325.3" r="4.75"/>
<circle cx="1150.3" cy="383.4" r="4.75"/>
<circle cx="1103.5" cy="202.6" r="4.75"/>
<circle cx="1228.3" cy="365.8" r="4.75"/>
<circle cx="1134.7" cy="387.4" r="4.75"/>
<circle cx="1150.3" cy="278.3" r="4.75"/>
<circle cx="1056.7" cy="411.4" r="4.75"/>
<circle cx="1181.5" cy="244.0" r="4.75"/>
<circle cx="1275.2" cy="280.4" r="4.75"/>
<circle cx="1228.3" cy="318.1" r="4.75"/>
<circle cx="1087.9" cy="354.7" r="4.75"/>
<circle cx="1275.2" cy="298.5" r="4.75"/>
<circle cx="1259.6" cy="290.6" r="4.75"/>
<circle cx="1165.9" cy="239.3" r="4.75"/>
<circle cx="1244.0" cy="304.7" r="4.75"/>
<circle cx="1275.2" cy="337.6" r="4.75"/>
<circle cx="1244.0" cy="373.1" r="4.75"/>
<circle cx="1134.7" cy="262.9" r="4.75"/>
<circle cx="1041.1" cy="248.5" r="4.75"/>
<circle cx="1087.9" cy="208.6" r="4.75"/>
<circle cx="1244.0" cy="285.8" r="4.75"/>
<circle cx="1087.9" cy="199.1" r="4.75"/>
<circle cx="1119.1" cy="386.5" r="4.75"/>
<circle cx="1165.9" cy="320.8" r="4.75"/>
<circle cx="1119.1" cy="396.3" r="4.75"/>
<circle cx="1181.5" cy="222.7" r="4.75"/>
<circle cx="1165.9" cy="360.4" r="4.75"/>
<circle cx="1056.7" cy="389.8" r="4.75"/>
<circle cx="1056.7" cy="401.6" r="4.75"/>
<circle cx="1087.9" cy="383.9" r="4.75"/>
<circle cx="1150.3" cy="395.4" r="4.75"/>
<circle cx="1072.3" cy="340.8" r="4.75"/>
<circle cx="1056.7" cy="282.3" r="4.75"/>
<circle cx="1259.6" cy="369.1" r="4.75"/>
<circle cx="1165.9" cy="381.2" r="4.75"/>
<circle cx="1181.5" cy="264.9" r="4.75"/>
<circle cx="1103.5" cy="214.5" r="4.75"/>
<circle cx="1056.7" cy="350.9" r="4.75"/>
<circle cx="1134.7" cy="222.7" r="4.75"/>
<circle cx="1259.6" cy="300.8" r="4.75"/>
<circle cx="1119.1" cy="354.9" r="4.75"/>
<circle cx="1103.5" cy="183.2" r="4.75"/>
<circle cx="1103.5" cy="242.9" r="4.75"/>
<circle cx="1134.7" cy="279.4" r="4.75"/>
<circle cx="1056.7" cy="272.8" r="4.75"/>
<circle cx="1103.5" cy="310.6" r="4.75"/>
<circle cx="1244.0" cy="323.9" r="4.75"/>
<circle cx="1087.9" cy="248.1" r="4.75"/>
<circle cx="1259.6" cy="281.6" r="4.75"/>
<circle cx="1212.7" cy="286.3" r="4.75"/>
<circle cx="1103.5" cy="398.5" r="4.75"/>
<circle cx="1056.7" cy="322.8" r="4.75"/>
<circle cx="1259.6" cy="261.5" r="4.75"/>
<circle cx="1228.3" cy="279.2" r="4.75"/>
<circle cx="1244.0" cy="392.6" r="4.75"/>
<circle cx="1165.9" cy="350.2" r="4.75"/>
<circle cx="1212.7" cy="356.9" r="4.75"/>
<circle cx="1212.7" cy="266.4" r="4.75"/>
<circle cx="1306.4" cy="308.1" r="4.75"/>
<circle cx="1072.3" cy="292.8" r="4.75"/>
<circle cx="1259.6" cy="350.8" r="4.75"/>
<circle cx="1134.7" cy="376.6" r="4.75"/>
<circle cx="1119.1" cy="285.7" r="4.75"/>
<circle cx="1197.1" cy="260.6" r="4.75"/>
<circle cx="1197.1" cy="375.5" r="4.75"/>
<circle cx="1072.3" cy="273.0" r="4.75"/>
<circle cx="1165.9" cy="372.7" r="4.75"/>
<circle cx="1119.1" cy="227.3" r="4.75"/>
<circle cx="1165.9" cy="225.9" r="4.75"/>
<circle cx="1056.7" cy="243.2" r="4.75"/>
<circle cx="1072.3" cy="391.6" r="4.75"/>
<circle cx="1119.1" cy="405.0" r="4.75"/>
<circle cx="1056.7" cy="291.8" r="4.75"/>
<circle cx="1056.7" cy="264.6" r="4.75"/>
<circle cx="1150.3" cy="220.1" r="4.75"/>
<circle cx="1072.3" cy="402.2" r="4.75"/>
<circle cx="1041.1" cy="239.2" r="4.75"/>
<circle cx="1165.9" cy="393.2" r="4.75"/>
<circle cx="1290.8" cy="348.2" r="4.75"/>
<circle cx="1212.7" cy="317.6" r="4.75"/>
<circle cx="1134.7" cy="250.9" r="4.75"/>
<circle cx="1259.6" cy="321.4" r="4.75"/>
<circle cx="1244.0" cy="365.3" r="4.75"/>
<circle cx="1290.8" cy="318.1" r="4.75"/>
<circle cx="1119.1" cy="317.4" r="4.75"/>
<circle cx="1290.8" cy="300.7" r="4.75"/>
<circle cx="1103.5" cy="261.9" r="4.75"/>
<circle cx="1150.3" cy="364.7" r="4.75"/>
<circle cx="1275.2" cy="327.5" r="4.75"/>
<circle cx="1056.7" cy="252.8" r="4.75"/>
<circle cx="1181.5" cy="370.8" r="4.75"/>
</g>
<rect x="1023.6" y="35.5" width="378.6" height="395.5" fill="none" stroke="#4a4a4a" stroke-width="2.2"/>
<path d="M1072.3 431.0V437.8M1134.7 431.0V437.8M1197.1 431.0V437.8M1259.6 431.0V437.8M1322.0 431.0V437.8M1384.4 431.0V437.8M1023.6 427.4H1017.6M1023.6 348.9H1017.6M1023.6 270.4H1017.6M1023.6 191.9H1017.6M1023.6 113.4H1017.6" stroke="#505050" stroke-width="2.2" fill="none"/>
<g font-size="26" fill="#000" stroke="#000" stroke-width="0.2">
<text transform="translate(1072.3,461.8) scale(1,1.06)" text-anchor="middle">60</text>
<text transform="translate(1134.7,461.8) scale(1,1.06)" text-anchor="middle">80</text>
<text transform="translate(1197.1,461.8) scale(1,1.06)" text-anchor="middle">100</text>
<text transform="translate(1259.6,461.8) scale(1,1.06)" text-anchor="middle">120</text>
<text transform="translate(1322.0,461.8) scale(1,1.06)" text-anchor="middle">140</text>
<text transform="translate(1384.4,461.8) scale(1,1.06)" text-anchor="middle">160</text>
<text transform="translate(1012.7,437.2) scale(1,1.06)" text-anchor="end">0</text>
<text transform="translate(1012.7,358.7) scale(1,1.06)" text-anchor="end">100</text>
<text transform="translate(1012.7,280.2) scale(1,1.06)" text-anchor="end">200</text>
<text transform="translate(1012.7,201.7) scale(1,1.06)" text-anchor="end">300</text>
<text transform="translate(1012.7,123.2) scale(1,1.06)" text-anchor="end">400</text>
</g>
<text transform="translate(1212.9,25.3) scale(1,1.06)" font-size="30" stroke="#000" stroke-width="0.15" text-anchor="middle">R50</text>
<text x="1212.9" y="498" font-size="33.5" stroke="#000" stroke-width="0.15" text-anchor="middle">MWS [knot]</text>
<text x="960.6" y="60.4" font-size="31" font-weight="bold">C</text>
<text transform="translate(1230.00,113.7) scale(0.910,1)" font-size="37" font-style="italic" stroke="#000" stroke-width="0.35">r</text>
<text transform="translate(1243.72,110.58) scale(1.059,0.62)" font-size="37" font-style="italic" stroke="#000" stroke-width="1.0">=</text>
<text transform="translate(1270.86,113.7) scale(0.917,1)" font-size="37" font-style="italic" stroke="#000" stroke-width="0.35">0</text>
<text transform="translate(1291.60,113.7) scale(1.000,1)" font-size="37" font-style="italic" stroke="#000" stroke-width="0.35">.</text>
<text transform="translate(1303.57,113.7) scale(0.843,1)" font-size="37" font-style="italic" stroke="#000" stroke-width="0.35">2</text>
<text transform="translate(1323.99,113.7) scale(0.886,1)" font-size="37" font-style="italic" stroke="#000" stroke-width="0.35">0</text>
<text transform="translate(29,233) rotate(-90)" font-size="33.2" stroke="#000" stroke-width="0.15" text-anchor="middle">Wind radii [km]</text>
</g></svg></body></html>
